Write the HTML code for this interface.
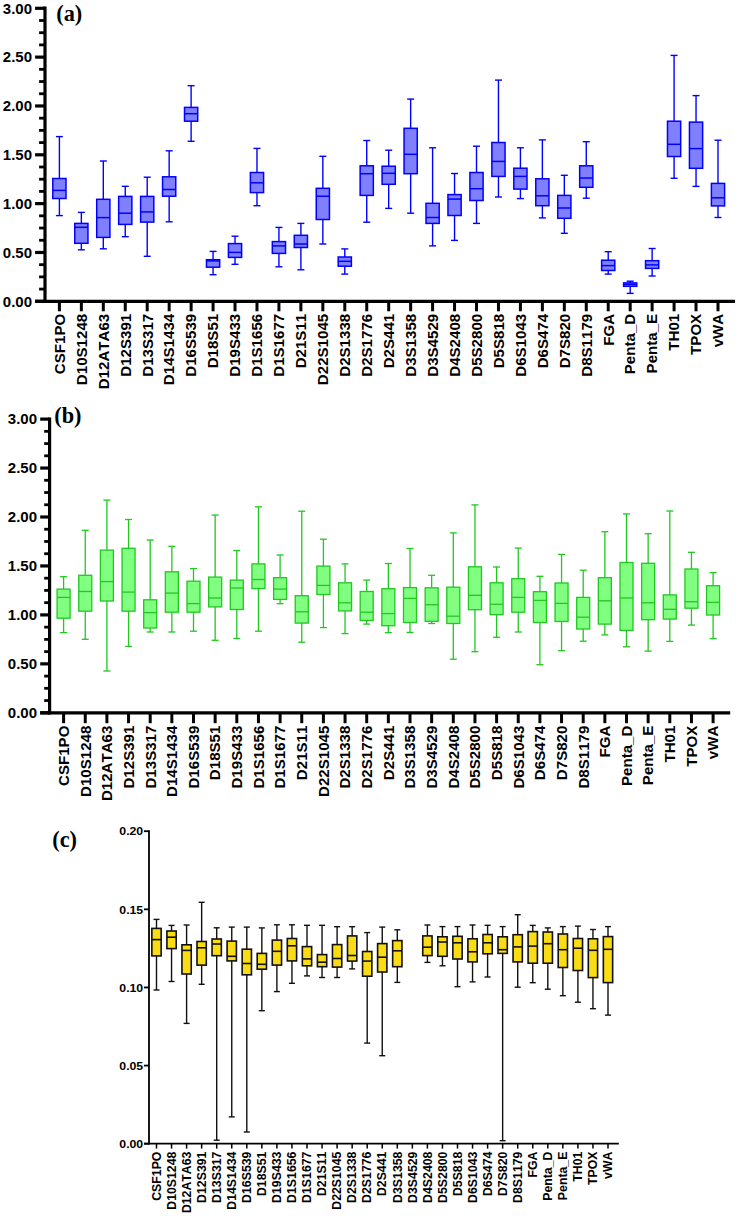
<!DOCTYPE html><html><head><meta charset="utf-8"><style>html,body{margin:0;padding:0;background:#fff;}svg{display:block;}</style></head><body>
<svg width="738" height="1216" viewBox="0 0 738 1216">
<rect width="738" height="1216" fill="#fff"/>
<line x1="59.40" y1="136.60" x2="59.40" y2="178.50" stroke="#0000ff" stroke-width="1.4"/>
<line x1="59.40" y1="198.50" x2="59.40" y2="215.60" stroke="#0000ff" stroke-width="1.4"/>
<line x1="55.90" y1="136.60" x2="62.90" y2="136.60" stroke="#0000ff" stroke-width="1.4"/>
<line x1="55.90" y1="215.60" x2="62.90" y2="215.60" stroke="#0000ff" stroke-width="1.4"/>
<rect x="52.80" y="178.50" width="13.20" height="20.00" fill="#8080ff" stroke="#0000ff" stroke-width="1.5"/>
<line x1="52.80" y1="190.40" x2="66.00" y2="190.40" stroke="#0000ff" stroke-width="1.5"/>
<line x1="81.35" y1="212.40" x2="81.35" y2="223.40" stroke="#0000ff" stroke-width="1.4"/>
<line x1="81.35" y1="243.30" x2="81.35" y2="249.80" stroke="#0000ff" stroke-width="1.4"/>
<line x1="77.85" y1="212.40" x2="84.85" y2="212.40" stroke="#0000ff" stroke-width="1.4"/>
<line x1="77.85" y1="249.80" x2="84.85" y2="249.80" stroke="#0000ff" stroke-width="1.4"/>
<rect x="74.75" y="223.40" width="13.20" height="19.90" fill="#8080ff" stroke="#0000ff" stroke-width="1.5"/>
<line x1="74.75" y1="227.30" x2="87.95" y2="227.30" stroke="#0000ff" stroke-width="1.5"/>
<line x1="103.31" y1="161.00" x2="103.31" y2="199.30" stroke="#0000ff" stroke-width="1.4"/>
<line x1="103.31" y1="237.40" x2="103.31" y2="248.80" stroke="#0000ff" stroke-width="1.4"/>
<line x1="99.81" y1="161.00" x2="106.81" y2="161.00" stroke="#0000ff" stroke-width="1.4"/>
<line x1="99.81" y1="248.80" x2="106.81" y2="248.80" stroke="#0000ff" stroke-width="1.4"/>
<rect x="96.71" y="199.30" width="13.20" height="38.10" fill="#8080ff" stroke="#0000ff" stroke-width="1.5"/>
<line x1="96.71" y1="217.60" x2="109.91" y2="217.60" stroke="#0000ff" stroke-width="1.5"/>
<line x1="125.26" y1="186.30" x2="125.26" y2="196.40" stroke="#0000ff" stroke-width="1.4"/>
<line x1="125.26" y1="224.40" x2="125.26" y2="236.70" stroke="#0000ff" stroke-width="1.4"/>
<line x1="121.76" y1="186.30" x2="128.76" y2="186.30" stroke="#0000ff" stroke-width="1.4"/>
<line x1="121.76" y1="236.70" x2="128.76" y2="236.70" stroke="#0000ff" stroke-width="1.4"/>
<rect x="118.66" y="196.40" width="13.20" height="28.00" fill="#8080ff" stroke="#0000ff" stroke-width="1.5"/>
<line x1="118.66" y1="213.20" x2="131.86" y2="213.20" stroke="#0000ff" stroke-width="1.5"/>
<line x1="147.21" y1="177.20" x2="147.21" y2="196.40" stroke="#0000ff" stroke-width="1.4"/>
<line x1="147.21" y1="222.10" x2="147.21" y2="256.30" stroke="#0000ff" stroke-width="1.4"/>
<line x1="143.71" y1="177.20" x2="150.71" y2="177.20" stroke="#0000ff" stroke-width="1.4"/>
<line x1="143.71" y1="256.30" x2="150.71" y2="256.30" stroke="#0000ff" stroke-width="1.4"/>
<rect x="140.61" y="196.40" width="13.20" height="25.70" fill="#8080ff" stroke="#0000ff" stroke-width="1.5"/>
<line x1="140.61" y1="211.90" x2="153.81" y2="211.90" stroke="#0000ff" stroke-width="1.5"/>
<line x1="169.16" y1="150.80" x2="169.16" y2="176.80" stroke="#0000ff" stroke-width="1.4"/>
<line x1="169.16" y1="196.20" x2="169.16" y2="221.80" stroke="#0000ff" stroke-width="1.4"/>
<line x1="165.66" y1="150.80" x2="172.66" y2="150.80" stroke="#0000ff" stroke-width="1.4"/>
<line x1="165.66" y1="221.80" x2="172.66" y2="221.80" stroke="#0000ff" stroke-width="1.4"/>
<rect x="162.56" y="176.80" width="13.20" height="19.40" fill="#8080ff" stroke="#0000ff" stroke-width="1.5"/>
<line x1="162.56" y1="189.50" x2="175.76" y2="189.50" stroke="#0000ff" stroke-width="1.5"/>
<line x1="191.12" y1="85.70" x2="191.12" y2="107.40" stroke="#0000ff" stroke-width="1.4"/>
<line x1="191.12" y1="121.20" x2="191.12" y2="141.30" stroke="#0000ff" stroke-width="1.4"/>
<line x1="187.62" y1="85.70" x2="194.62" y2="85.70" stroke="#0000ff" stroke-width="1.4"/>
<line x1="187.62" y1="141.30" x2="194.62" y2="141.30" stroke="#0000ff" stroke-width="1.4"/>
<rect x="184.52" y="107.40" width="13.20" height="13.80" fill="#8080ff" stroke="#0000ff" stroke-width="1.5"/>
<line x1="184.52" y1="113.70" x2="197.72" y2="113.70" stroke="#0000ff" stroke-width="1.5"/>
<line x1="213.07" y1="251.40" x2="213.07" y2="259.70" stroke="#0000ff" stroke-width="1.4"/>
<line x1="213.07" y1="267.20" x2="213.07" y2="274.70" stroke="#0000ff" stroke-width="1.4"/>
<line x1="209.57" y1="251.40" x2="216.57" y2="251.40" stroke="#0000ff" stroke-width="1.4"/>
<line x1="209.57" y1="274.70" x2="216.57" y2="274.70" stroke="#0000ff" stroke-width="1.4"/>
<rect x="206.47" y="259.70" width="13.20" height="7.50" fill="#8080ff" stroke="#0000ff" stroke-width="1.5"/>
<line x1="206.47" y1="260.90" x2="219.67" y2="260.90" stroke="#0000ff" stroke-width="1.5"/>
<line x1="235.02" y1="236.20" x2="235.02" y2="243.60" stroke="#0000ff" stroke-width="1.4"/>
<line x1="235.02" y1="257.40" x2="235.02" y2="264.30" stroke="#0000ff" stroke-width="1.4"/>
<line x1="231.52" y1="236.20" x2="238.52" y2="236.20" stroke="#0000ff" stroke-width="1.4"/>
<line x1="231.52" y1="264.30" x2="238.52" y2="264.30" stroke="#0000ff" stroke-width="1.4"/>
<rect x="228.42" y="243.60" width="13.20" height="13.80" fill="#8080ff" stroke="#0000ff" stroke-width="1.5"/>
<line x1="228.42" y1="252.40" x2="241.62" y2="252.40" stroke="#0000ff" stroke-width="1.5"/>
<line x1="256.98" y1="148.40" x2="256.98" y2="172.50" stroke="#0000ff" stroke-width="1.4"/>
<line x1="256.98" y1="192.60" x2="256.98" y2="205.70" stroke="#0000ff" stroke-width="1.4"/>
<line x1="253.48" y1="148.40" x2="260.48" y2="148.40" stroke="#0000ff" stroke-width="1.4"/>
<line x1="253.48" y1="205.70" x2="260.48" y2="205.70" stroke="#0000ff" stroke-width="1.4"/>
<rect x="250.38" y="172.50" width="13.20" height="20.10" fill="#8080ff" stroke="#0000ff" stroke-width="1.5"/>
<line x1="250.38" y1="182.80" x2="263.58" y2="182.80" stroke="#0000ff" stroke-width="1.5"/>
<line x1="278.93" y1="227.40" x2="278.93" y2="241.60" stroke="#0000ff" stroke-width="1.4"/>
<line x1="278.93" y1="253.40" x2="278.93" y2="266.80" stroke="#0000ff" stroke-width="1.4"/>
<line x1="275.43" y1="227.40" x2="282.43" y2="227.40" stroke="#0000ff" stroke-width="1.4"/>
<line x1="275.43" y1="266.80" x2="282.43" y2="266.80" stroke="#0000ff" stroke-width="1.4"/>
<rect x="272.33" y="241.60" width="13.20" height="11.80" fill="#8080ff" stroke="#0000ff" stroke-width="1.5"/>
<line x1="272.33" y1="245.90" x2="285.53" y2="245.90" stroke="#0000ff" stroke-width="1.5"/>
<line x1="300.88" y1="223.40" x2="300.88" y2="235.30" stroke="#0000ff" stroke-width="1.4"/>
<line x1="300.88" y1="247.50" x2="300.88" y2="269.80" stroke="#0000ff" stroke-width="1.4"/>
<line x1="297.38" y1="223.40" x2="304.38" y2="223.40" stroke="#0000ff" stroke-width="1.4"/>
<line x1="297.38" y1="269.80" x2="304.38" y2="269.80" stroke="#0000ff" stroke-width="1.4"/>
<rect x="294.28" y="235.30" width="13.20" height="12.20" fill="#8080ff" stroke="#0000ff" stroke-width="1.5"/>
<line x1="294.28" y1="244.00" x2="307.48" y2="244.00" stroke="#0000ff" stroke-width="1.5"/>
<line x1="322.84" y1="156.30" x2="322.84" y2="188.30" stroke="#0000ff" stroke-width="1.4"/>
<line x1="322.84" y1="219.50" x2="322.84" y2="244.00" stroke="#0000ff" stroke-width="1.4"/>
<line x1="319.34" y1="156.30" x2="326.34" y2="156.30" stroke="#0000ff" stroke-width="1.4"/>
<line x1="319.34" y1="244.00" x2="326.34" y2="244.00" stroke="#0000ff" stroke-width="1.4"/>
<rect x="316.24" y="188.30" width="13.20" height="31.20" fill="#8080ff" stroke="#0000ff" stroke-width="1.5"/>
<line x1="316.24" y1="196.20" x2="329.44" y2="196.20" stroke="#0000ff" stroke-width="1.5"/>
<line x1="344.79" y1="248.90" x2="344.79" y2="257.00" stroke="#0000ff" stroke-width="1.4"/>
<line x1="344.79" y1="266.20" x2="344.79" y2="274.10" stroke="#0000ff" stroke-width="1.4"/>
<line x1="341.29" y1="248.90" x2="348.29" y2="248.90" stroke="#0000ff" stroke-width="1.4"/>
<line x1="341.29" y1="274.10" x2="348.29" y2="274.10" stroke="#0000ff" stroke-width="1.4"/>
<rect x="338.19" y="257.00" width="13.20" height="9.20" fill="#8080ff" stroke="#0000ff" stroke-width="1.5"/>
<line x1="338.19" y1="261.30" x2="351.39" y2="261.30" stroke="#0000ff" stroke-width="1.5"/>
<line x1="366.74" y1="140.50" x2="366.74" y2="165.80" stroke="#0000ff" stroke-width="1.4"/>
<line x1="366.74" y1="195.40" x2="366.74" y2="222.20" stroke="#0000ff" stroke-width="1.4"/>
<line x1="363.24" y1="140.50" x2="370.24" y2="140.50" stroke="#0000ff" stroke-width="1.4"/>
<line x1="363.24" y1="222.20" x2="370.24" y2="222.20" stroke="#0000ff" stroke-width="1.4"/>
<rect x="360.14" y="165.80" width="13.20" height="29.60" fill="#8080ff" stroke="#0000ff" stroke-width="1.5"/>
<line x1="360.14" y1="173.70" x2="373.34" y2="173.70" stroke="#0000ff" stroke-width="1.5"/>
<line x1="388.69" y1="150.20" x2="388.69" y2="166.20" stroke="#0000ff" stroke-width="1.4"/>
<line x1="388.69" y1="184.30" x2="388.69" y2="208.40" stroke="#0000ff" stroke-width="1.4"/>
<line x1="385.19" y1="150.20" x2="392.19" y2="150.20" stroke="#0000ff" stroke-width="1.4"/>
<line x1="385.19" y1="208.40" x2="392.19" y2="208.40" stroke="#0000ff" stroke-width="1.4"/>
<rect x="382.09" y="166.20" width="13.20" height="18.10" fill="#8080ff" stroke="#0000ff" stroke-width="1.5"/>
<line x1="382.09" y1="173.30" x2="395.30" y2="173.30" stroke="#0000ff" stroke-width="1.5"/>
<line x1="410.65" y1="99.10" x2="410.65" y2="128.30" stroke="#0000ff" stroke-width="1.4"/>
<line x1="410.65" y1="173.70" x2="410.65" y2="213.20" stroke="#0000ff" stroke-width="1.4"/>
<line x1="407.15" y1="99.10" x2="414.15" y2="99.10" stroke="#0000ff" stroke-width="1.4"/>
<line x1="407.15" y1="213.20" x2="414.15" y2="213.20" stroke="#0000ff" stroke-width="1.4"/>
<rect x="404.05" y="128.30" width="13.20" height="45.40" fill="#8080ff" stroke="#0000ff" stroke-width="1.5"/>
<line x1="404.05" y1="154.30" x2="417.25" y2="154.30" stroke="#0000ff" stroke-width="1.5"/>
<line x1="432.60" y1="147.80" x2="432.60" y2="203.30" stroke="#0000ff" stroke-width="1.4"/>
<line x1="432.60" y1="223.40" x2="432.60" y2="245.90" stroke="#0000ff" stroke-width="1.4"/>
<line x1="429.10" y1="147.80" x2="436.10" y2="147.80" stroke="#0000ff" stroke-width="1.4"/>
<line x1="429.10" y1="245.90" x2="436.10" y2="245.90" stroke="#0000ff" stroke-width="1.4"/>
<rect x="426.00" y="203.30" width="13.20" height="20.10" fill="#8080ff" stroke="#0000ff" stroke-width="1.5"/>
<line x1="426.00" y1="217.50" x2="439.20" y2="217.50" stroke="#0000ff" stroke-width="1.5"/>
<line x1="454.55" y1="173.50" x2="454.55" y2="194.60" stroke="#0000ff" stroke-width="1.4"/>
<line x1="454.55" y1="215.50" x2="454.55" y2="240.40" stroke="#0000ff" stroke-width="1.4"/>
<line x1="451.05" y1="173.50" x2="458.05" y2="173.50" stroke="#0000ff" stroke-width="1.4"/>
<line x1="451.05" y1="240.40" x2="458.05" y2="240.40" stroke="#0000ff" stroke-width="1.4"/>
<rect x="447.95" y="194.60" width="13.20" height="20.90" fill="#8080ff" stroke="#0000ff" stroke-width="1.5"/>
<line x1="447.95" y1="199.10" x2="461.15" y2="199.10" stroke="#0000ff" stroke-width="1.5"/>
<line x1="476.51" y1="146.20" x2="476.51" y2="172.50" stroke="#0000ff" stroke-width="1.4"/>
<line x1="476.51" y1="200.50" x2="476.51" y2="223.40" stroke="#0000ff" stroke-width="1.4"/>
<line x1="473.01" y1="146.20" x2="480.01" y2="146.20" stroke="#0000ff" stroke-width="1.4"/>
<line x1="473.01" y1="223.40" x2="480.01" y2="223.40" stroke="#0000ff" stroke-width="1.4"/>
<rect x="469.91" y="172.50" width="13.20" height="28.00" fill="#8080ff" stroke="#0000ff" stroke-width="1.5"/>
<line x1="469.91" y1="188.70" x2="483.11" y2="188.70" stroke="#0000ff" stroke-width="1.5"/>
<line x1="498.46" y1="80.10" x2="498.46" y2="142.50" stroke="#0000ff" stroke-width="1.4"/>
<line x1="498.46" y1="176.40" x2="498.46" y2="197.00" stroke="#0000ff" stroke-width="1.4"/>
<line x1="494.96" y1="80.10" x2="501.96" y2="80.10" stroke="#0000ff" stroke-width="1.4"/>
<line x1="494.96" y1="197.00" x2="501.96" y2="197.00" stroke="#0000ff" stroke-width="1.4"/>
<rect x="491.86" y="142.50" width="13.20" height="33.90" fill="#8080ff" stroke="#0000ff" stroke-width="1.5"/>
<line x1="491.86" y1="161.40" x2="505.06" y2="161.40" stroke="#0000ff" stroke-width="1.5"/>
<line x1="520.41" y1="147.80" x2="520.41" y2="168.20" stroke="#0000ff" stroke-width="1.4"/>
<line x1="520.41" y1="189.10" x2="520.41" y2="198.60" stroke="#0000ff" stroke-width="1.4"/>
<line x1="516.91" y1="147.80" x2="523.91" y2="147.80" stroke="#0000ff" stroke-width="1.4"/>
<line x1="516.91" y1="198.60" x2="523.91" y2="198.60" stroke="#0000ff" stroke-width="1.4"/>
<rect x="513.81" y="168.20" width="13.20" height="20.90" fill="#8080ff" stroke="#0000ff" stroke-width="1.5"/>
<line x1="513.81" y1="176.40" x2="527.01" y2="176.40" stroke="#0000ff" stroke-width="1.5"/>
<line x1="542.37" y1="139.90" x2="542.37" y2="178.80" stroke="#0000ff" stroke-width="1.4"/>
<line x1="542.37" y1="205.70" x2="542.37" y2="217.90" stroke="#0000ff" stroke-width="1.4"/>
<line x1="538.87" y1="139.90" x2="545.87" y2="139.90" stroke="#0000ff" stroke-width="1.4"/>
<line x1="538.87" y1="217.90" x2="545.87" y2="217.90" stroke="#0000ff" stroke-width="1.4"/>
<rect x="535.77" y="178.80" width="13.20" height="26.90" fill="#8080ff" stroke="#0000ff" stroke-width="1.5"/>
<line x1="535.77" y1="195.80" x2="548.97" y2="195.80" stroke="#0000ff" stroke-width="1.5"/>
<line x1="564.32" y1="175.30" x2="564.32" y2="195.40" stroke="#0000ff" stroke-width="1.4"/>
<line x1="564.32" y1="218.30" x2="564.32" y2="233.30" stroke="#0000ff" stroke-width="1.4"/>
<line x1="560.82" y1="175.30" x2="567.82" y2="175.30" stroke="#0000ff" stroke-width="1.4"/>
<line x1="560.82" y1="233.30" x2="567.82" y2="233.30" stroke="#0000ff" stroke-width="1.4"/>
<rect x="557.72" y="195.40" width="13.20" height="22.90" fill="#8080ff" stroke="#0000ff" stroke-width="1.5"/>
<line x1="557.72" y1="208.00" x2="570.92" y2="208.00" stroke="#0000ff" stroke-width="1.5"/>
<line x1="586.27" y1="141.70" x2="586.27" y2="165.80" stroke="#0000ff" stroke-width="1.4"/>
<line x1="586.27" y1="187.30" x2="586.27" y2="198.20" stroke="#0000ff" stroke-width="1.4"/>
<line x1="582.77" y1="141.70" x2="589.77" y2="141.70" stroke="#0000ff" stroke-width="1.4"/>
<line x1="582.77" y1="198.20" x2="589.77" y2="198.20" stroke="#0000ff" stroke-width="1.4"/>
<rect x="579.67" y="165.80" width="13.20" height="21.50" fill="#8080ff" stroke="#0000ff" stroke-width="1.5"/>
<line x1="579.67" y1="178.00" x2="592.87" y2="178.00" stroke="#0000ff" stroke-width="1.5"/>
<line x1="608.22" y1="251.70" x2="608.22" y2="260.20" stroke="#0000ff" stroke-width="1.4"/>
<line x1="608.22" y1="270.50" x2="608.22" y2="274.10" stroke="#0000ff" stroke-width="1.4"/>
<line x1="604.72" y1="251.70" x2="611.72" y2="251.70" stroke="#0000ff" stroke-width="1.4"/>
<line x1="604.72" y1="274.10" x2="611.72" y2="274.10" stroke="#0000ff" stroke-width="1.4"/>
<rect x="601.62" y="260.20" width="13.20" height="10.30" fill="#8080ff" stroke="#0000ff" stroke-width="1.5"/>
<line x1="601.62" y1="265.60" x2="614.82" y2="265.60" stroke="#0000ff" stroke-width="1.5"/>
<line x1="630.18" y1="281.20" x2="630.18" y2="282.90" stroke="#0000ff" stroke-width="1.4"/>
<line x1="630.18" y1="286.30" x2="630.18" y2="293.40" stroke="#0000ff" stroke-width="1.4"/>
<line x1="626.68" y1="281.20" x2="633.68" y2="281.20" stroke="#0000ff" stroke-width="1.4"/>
<line x1="626.68" y1="293.40" x2="633.68" y2="293.40" stroke="#0000ff" stroke-width="1.4"/>
<rect x="623.58" y="282.90" width="13.20" height="3.40" fill="#8080ff" stroke="#0000ff" stroke-width="1.5"/>
<line x1="623.58" y1="284.40" x2="636.78" y2="284.40" stroke="#0000ff" stroke-width="1.5"/>
<line x1="652.13" y1="248.50" x2="652.13" y2="260.70" stroke="#0000ff" stroke-width="1.4"/>
<line x1="652.13" y1="268.40" x2="652.13" y2="276.00" stroke="#0000ff" stroke-width="1.4"/>
<line x1="648.63" y1="248.50" x2="655.63" y2="248.50" stroke="#0000ff" stroke-width="1.4"/>
<line x1="648.63" y1="276.00" x2="655.63" y2="276.00" stroke="#0000ff" stroke-width="1.4"/>
<rect x="645.53" y="260.70" width="13.20" height="7.70" fill="#8080ff" stroke="#0000ff" stroke-width="1.5"/>
<line x1="645.53" y1="264.90" x2="658.73" y2="264.90" stroke="#0000ff" stroke-width="1.5"/>
<line x1="674.08" y1="55.40" x2="674.08" y2="121.20" stroke="#0000ff" stroke-width="1.4"/>
<line x1="674.08" y1="156.50" x2="674.08" y2="178.30" stroke="#0000ff" stroke-width="1.4"/>
<line x1="670.58" y1="55.40" x2="677.58" y2="55.40" stroke="#0000ff" stroke-width="1.4"/>
<line x1="670.58" y1="178.30" x2="677.58" y2="178.30" stroke="#0000ff" stroke-width="1.4"/>
<rect x="667.48" y="121.20" width="13.20" height="35.30" fill="#8080ff" stroke="#0000ff" stroke-width="1.5"/>
<line x1="667.48" y1="144.30" x2="680.68" y2="144.30" stroke="#0000ff" stroke-width="1.5"/>
<line x1="696.04" y1="95.60" x2="696.04" y2="122.10" stroke="#0000ff" stroke-width="1.4"/>
<line x1="696.04" y1="168.30" x2="696.04" y2="186.40" stroke="#0000ff" stroke-width="1.4"/>
<line x1="692.54" y1="95.60" x2="699.54" y2="95.60" stroke="#0000ff" stroke-width="1.4"/>
<line x1="692.54" y1="186.40" x2="699.54" y2="186.40" stroke="#0000ff" stroke-width="1.4"/>
<rect x="689.44" y="122.10" width="13.20" height="46.20" fill="#8080ff" stroke="#0000ff" stroke-width="1.5"/>
<line x1="689.44" y1="148.60" x2="702.64" y2="148.60" stroke="#0000ff" stroke-width="1.5"/>
<line x1="717.99" y1="140.20" x2="717.99" y2="183.40" stroke="#0000ff" stroke-width="1.4"/>
<line x1="717.99" y1="205.90" x2="717.99" y2="217.50" stroke="#0000ff" stroke-width="1.4"/>
<line x1="714.49" y1="140.20" x2="721.49" y2="140.20" stroke="#0000ff" stroke-width="1.4"/>
<line x1="714.49" y1="217.50" x2="721.49" y2="217.50" stroke="#0000ff" stroke-width="1.4"/>
<rect x="711.39" y="183.40" width="13.20" height="22.50" fill="#8080ff" stroke="#0000ff" stroke-width="1.5"/>
<line x1="711.39" y1="197.80" x2="724.59" y2="197.80" stroke="#0000ff" stroke-width="1.5"/>
<line x1="45" y1="6.60" x2="45" y2="302.90" stroke="#000" stroke-width="3.2"/>
<line x1="35.1" y1="301.3" x2="735" y2="301.3" stroke="#000" stroke-width="3.2"/>
<line x1="35.1" y1="301.30" x2="45" y2="301.30" stroke="#000" stroke-width="3.2"/>
<text transform="translate(32,306.60) scale(1,1)" text-anchor="end" font-family='"Liberation Sans", sans-serif' font-weight="bold" font-size="15">0.00</text>
<line x1="35.1" y1="252.47" x2="45" y2="252.47" stroke="#000" stroke-width="3.2"/>
<text transform="translate(32,257.76) scale(1,1)" text-anchor="end" font-family='"Liberation Sans", sans-serif' font-weight="bold" font-size="15">0.50</text>
<line x1="35.1" y1="203.63" x2="45" y2="203.63" stroke="#000" stroke-width="3.2"/>
<text transform="translate(32,208.93) scale(1,1)" text-anchor="end" font-family='"Liberation Sans", sans-serif' font-weight="bold" font-size="15">1.00</text>
<line x1="35.1" y1="154.80" x2="45" y2="154.80" stroke="#000" stroke-width="3.2"/>
<text transform="translate(32,160.10) scale(1,1)" text-anchor="end" font-family='"Liberation Sans", sans-serif' font-weight="bold" font-size="15">1.50</text>
<line x1="35.1" y1="105.96" x2="45" y2="105.96" stroke="#000" stroke-width="3.2"/>
<text transform="translate(32,111.26) scale(1,1)" text-anchor="end" font-family='"Liberation Sans", sans-serif' font-weight="bold" font-size="15">2.00</text>
<line x1="35.1" y1="57.12" x2="45" y2="57.12" stroke="#000" stroke-width="3.2"/>
<text transform="translate(32,62.42) scale(1,1)" text-anchor="end" font-family='"Liberation Sans", sans-serif' font-weight="bold" font-size="15">2.50</text>
<line x1="35.1" y1="8.29" x2="45" y2="8.29" stroke="#000" stroke-width="3.2"/>
<text transform="translate(32,13.59) scale(1,1)" text-anchor="end" font-family='"Liberation Sans", sans-serif' font-weight="bold" font-size="15">3.00</text>
<line x1="39.1" y1="289.09" x2="45" y2="289.09" stroke="#000" stroke-width="2.8"/>
<line x1="39.1" y1="276.88" x2="45" y2="276.88" stroke="#000" stroke-width="2.8"/>
<line x1="39.1" y1="264.67" x2="45" y2="264.67" stroke="#000" stroke-width="2.8"/>
<line x1="39.1" y1="240.26" x2="45" y2="240.26" stroke="#000" stroke-width="2.8"/>
<line x1="39.1" y1="228.05" x2="45" y2="228.05" stroke="#000" stroke-width="2.8"/>
<line x1="39.1" y1="215.84" x2="45" y2="215.84" stroke="#000" stroke-width="2.8"/>
<line x1="39.1" y1="191.42" x2="45" y2="191.42" stroke="#000" stroke-width="2.8"/>
<line x1="39.1" y1="179.21" x2="45" y2="179.21" stroke="#000" stroke-width="2.8"/>
<line x1="39.1" y1="167.00" x2="45" y2="167.00" stroke="#000" stroke-width="2.8"/>
<line x1="39.1" y1="142.59" x2="45" y2="142.59" stroke="#000" stroke-width="2.8"/>
<line x1="39.1" y1="130.38" x2="45" y2="130.38" stroke="#000" stroke-width="2.8"/>
<line x1="39.1" y1="118.17" x2="45" y2="118.17" stroke="#000" stroke-width="2.8"/>
<line x1="39.1" y1="93.75" x2="45" y2="93.75" stroke="#000" stroke-width="2.8"/>
<line x1="39.1" y1="81.54" x2="45" y2="81.54" stroke="#000" stroke-width="2.8"/>
<line x1="39.1" y1="69.33" x2="45" y2="69.33" stroke="#000" stroke-width="2.8"/>
<line x1="39.1" y1="44.92" x2="45" y2="44.92" stroke="#000" stroke-width="2.8"/>
<line x1="39.1" y1="32.71" x2="45" y2="32.71" stroke="#000" stroke-width="2.8"/>
<line x1="39.1" y1="20.50" x2="45" y2="20.50" stroke="#000" stroke-width="2.8"/>
<line x1="59.40" y1="301.3" x2="59.40" y2="311.3" stroke="#000" stroke-width="3"/>
<text transform="translate(64.70,313.8) rotate(-90)" text-anchor="end" font-family='"Liberation Sans", sans-serif' font-weight="bold" font-size="15.1" style="font-kerning:none">CSF1PO</text>
<line x1="81.35" y1="301.3" x2="81.35" y2="311.3" stroke="#000" stroke-width="3"/>
<text transform="translate(86.65,313.8) rotate(-90)" text-anchor="end" font-family='"Liberation Sans", sans-serif' font-weight="bold" font-size="15.1" style="font-kerning:none">D10S1248</text>
<line x1="103.31" y1="301.3" x2="103.31" y2="311.3" stroke="#000" stroke-width="3"/>
<text transform="translate(108.61,313.8) rotate(-90)" text-anchor="end" font-family='"Liberation Sans", sans-serif' font-weight="bold" font-size="15.1" style="font-kerning:none">D12ATA63</text>
<line x1="125.26" y1="301.3" x2="125.26" y2="311.3" stroke="#000" stroke-width="3"/>
<text transform="translate(130.56,313.8) rotate(-90)" text-anchor="end" font-family='"Liberation Sans", sans-serif' font-weight="bold" font-size="15.1" style="font-kerning:none">D12S391</text>
<line x1="147.21" y1="301.3" x2="147.21" y2="311.3" stroke="#000" stroke-width="3"/>
<text transform="translate(152.51,313.8) rotate(-90)" text-anchor="end" font-family='"Liberation Sans", sans-serif' font-weight="bold" font-size="15.1" style="font-kerning:none">D13S317</text>
<line x1="169.16" y1="301.3" x2="169.16" y2="311.3" stroke="#000" stroke-width="3"/>
<text transform="translate(174.47,313.8) rotate(-90)" text-anchor="end" font-family='"Liberation Sans", sans-serif' font-weight="bold" font-size="15.1" style="font-kerning:none">D14S1434</text>
<line x1="191.12" y1="301.3" x2="191.12" y2="311.3" stroke="#000" stroke-width="3"/>
<text transform="translate(196.42,313.8) rotate(-90)" text-anchor="end" font-family='"Liberation Sans", sans-serif' font-weight="bold" font-size="15.1" style="font-kerning:none">D16S539</text>
<line x1="213.07" y1="301.3" x2="213.07" y2="311.3" stroke="#000" stroke-width="3"/>
<text transform="translate(218.37,313.8) rotate(-90)" text-anchor="end" font-family='"Liberation Sans", sans-serif' font-weight="bold" font-size="15.1" style="font-kerning:none">D18S51</text>
<line x1="235.02" y1="301.3" x2="235.02" y2="311.3" stroke="#000" stroke-width="3"/>
<text transform="translate(240.32,313.8) rotate(-90)" text-anchor="end" font-family='"Liberation Sans", sans-serif' font-weight="bold" font-size="15.1" style="font-kerning:none">D19S433</text>
<line x1="256.98" y1="301.3" x2="256.98" y2="311.3" stroke="#000" stroke-width="3"/>
<text transform="translate(262.28,313.8) rotate(-90)" text-anchor="end" font-family='"Liberation Sans", sans-serif' font-weight="bold" font-size="15.1" style="font-kerning:none">D1S1656</text>
<line x1="278.93" y1="301.3" x2="278.93" y2="311.3" stroke="#000" stroke-width="3"/>
<text transform="translate(284.23,313.8) rotate(-90)" text-anchor="end" font-family='"Liberation Sans", sans-serif' font-weight="bold" font-size="15.1" style="font-kerning:none">D1S1677</text>
<line x1="300.88" y1="301.3" x2="300.88" y2="311.3" stroke="#000" stroke-width="3"/>
<text transform="translate(306.18,313.8) rotate(-90)" text-anchor="end" font-family='"Liberation Sans", sans-serif' font-weight="bold" font-size="15.1" style="font-kerning:none">D21S11</text>
<line x1="322.84" y1="301.3" x2="322.84" y2="311.3" stroke="#000" stroke-width="3"/>
<text transform="translate(328.14,313.8) rotate(-90)" text-anchor="end" font-family='"Liberation Sans", sans-serif' font-weight="bold" font-size="15.1" style="font-kerning:none">D22S1045</text>
<line x1="344.79" y1="301.3" x2="344.79" y2="311.3" stroke="#000" stroke-width="3"/>
<text transform="translate(350.09,313.8) rotate(-90)" text-anchor="end" font-family='"Liberation Sans", sans-serif' font-weight="bold" font-size="15.1" style="font-kerning:none">D2S1338</text>
<line x1="366.74" y1="301.3" x2="366.74" y2="311.3" stroke="#000" stroke-width="3"/>
<text transform="translate(372.04,313.8) rotate(-90)" text-anchor="end" font-family='"Liberation Sans", sans-serif' font-weight="bold" font-size="15.1" style="font-kerning:none">D2S1776</text>
<line x1="388.69" y1="301.3" x2="388.69" y2="311.3" stroke="#000" stroke-width="3"/>
<text transform="translate(394.00,313.8) rotate(-90)" text-anchor="end" font-family='"Liberation Sans", sans-serif' font-weight="bold" font-size="15.1" style="font-kerning:none">D2S441</text>
<line x1="410.65" y1="301.3" x2="410.65" y2="311.3" stroke="#000" stroke-width="3"/>
<text transform="translate(415.95,313.8) rotate(-90)" text-anchor="end" font-family='"Liberation Sans", sans-serif' font-weight="bold" font-size="15.1" style="font-kerning:none">D3S1358</text>
<line x1="432.60" y1="301.3" x2="432.60" y2="311.3" stroke="#000" stroke-width="3"/>
<text transform="translate(437.90,313.8) rotate(-90)" text-anchor="end" font-family='"Liberation Sans", sans-serif' font-weight="bold" font-size="15.1" style="font-kerning:none">D3S4529</text>
<line x1="454.55" y1="301.3" x2="454.55" y2="311.3" stroke="#000" stroke-width="3"/>
<text transform="translate(459.85,313.8) rotate(-90)" text-anchor="end" font-family='"Liberation Sans", sans-serif' font-weight="bold" font-size="15.1" style="font-kerning:none">D4S2408</text>
<line x1="476.51" y1="301.3" x2="476.51" y2="311.3" stroke="#000" stroke-width="3"/>
<text transform="translate(481.81,313.8) rotate(-90)" text-anchor="end" font-family='"Liberation Sans", sans-serif' font-weight="bold" font-size="15.1" style="font-kerning:none">D5S2800</text>
<line x1="498.46" y1="301.3" x2="498.46" y2="311.3" stroke="#000" stroke-width="3"/>
<text transform="translate(503.76,313.8) rotate(-90)" text-anchor="end" font-family='"Liberation Sans", sans-serif' font-weight="bold" font-size="15.1" style="font-kerning:none">D5S818</text>
<line x1="520.41" y1="301.3" x2="520.41" y2="311.3" stroke="#000" stroke-width="3"/>
<text transform="translate(525.71,313.8) rotate(-90)" text-anchor="end" font-family='"Liberation Sans", sans-serif' font-weight="bold" font-size="15.1" style="font-kerning:none">D6S1043</text>
<line x1="542.37" y1="301.3" x2="542.37" y2="311.3" stroke="#000" stroke-width="3"/>
<text transform="translate(547.67,313.8) rotate(-90)" text-anchor="end" font-family='"Liberation Sans", sans-serif' font-weight="bold" font-size="15.1" style="font-kerning:none">D6S474</text>
<line x1="564.32" y1="301.3" x2="564.32" y2="311.3" stroke="#000" stroke-width="3"/>
<text transform="translate(569.62,313.8) rotate(-90)" text-anchor="end" font-family='"Liberation Sans", sans-serif' font-weight="bold" font-size="15.1" style="font-kerning:none">D7S820</text>
<line x1="586.27" y1="301.3" x2="586.27" y2="311.3" stroke="#000" stroke-width="3"/>
<text transform="translate(591.57,313.8) rotate(-90)" text-anchor="end" font-family='"Liberation Sans", sans-serif' font-weight="bold" font-size="15.1" style="font-kerning:none">D8S1179</text>
<line x1="608.22" y1="301.3" x2="608.22" y2="311.3" stroke="#000" stroke-width="3"/>
<text transform="translate(613.52,313.8) rotate(-90)" text-anchor="end" font-family='"Liberation Sans", sans-serif' font-weight="bold" font-size="15.1" style="font-kerning:none">FGA</text>
<line x1="630.18" y1="301.3" x2="630.18" y2="311.3" stroke="#000" stroke-width="3"/>
<text transform="translate(635.48,313.8) rotate(-90)" text-anchor="end" font-family='"Liberation Sans", sans-serif' font-weight="bold" font-size="15.1" style="font-kerning:none">Penta_D</text>
<line x1="652.13" y1="301.3" x2="652.13" y2="311.3" stroke="#000" stroke-width="3"/>
<text transform="translate(657.43,313.8) rotate(-90)" text-anchor="end" font-family='"Liberation Sans", sans-serif' font-weight="bold" font-size="15.1" style="font-kerning:none">Penta_E</text>
<line x1="674.08" y1="301.3" x2="674.08" y2="311.3" stroke="#000" stroke-width="3"/>
<text transform="translate(679.38,313.8) rotate(-90)" text-anchor="end" font-family='"Liberation Sans", sans-serif' font-weight="bold" font-size="15.1" style="font-kerning:none">TH01</text>
<line x1="696.04" y1="301.3" x2="696.04" y2="311.3" stroke="#000" stroke-width="3"/>
<text transform="translate(701.34,313.8) rotate(-90)" text-anchor="end" font-family='"Liberation Sans", sans-serif' font-weight="bold" font-size="15.1" style="font-kerning:none">TPOX</text>
<line x1="717.99" y1="301.3" x2="717.99" y2="311.3" stroke="#000" stroke-width="3"/>
<text transform="translate(723.29,313.8) rotate(-90)" text-anchor="end" font-family='"Liberation Sans", sans-serif' font-weight="bold" font-size="15.1" style="font-kerning:none">vWA</text>
<text x="56.3" y="20.7" font-family='"Liberation Serif", serif' font-weight="bold" font-size="22.3">(a)</text>
<line x1="63.60" y1="576.70" x2="63.60" y2="589.10" stroke="#20c820" stroke-width="1.3"/>
<line x1="63.60" y1="618.20" x2="63.60" y2="632.60" stroke="#20c820" stroke-width="1.3"/>
<line x1="60.10" y1="576.70" x2="67.10" y2="576.70" stroke="#20c820" stroke-width="1.3"/>
<line x1="60.10" y1="632.60" x2="67.10" y2="632.60" stroke="#20c820" stroke-width="1.3"/>
<rect x="57.10" y="589.10" width="13.00" height="29.10" fill="#80ff80" stroke="#20c820" stroke-width="1.3"/>
<line x1="57.10" y1="597.40" x2="70.10" y2="597.40" stroke="#20c820" stroke-width="1.3"/>
<line x1="85.25" y1="530.30" x2="85.25" y2="575.30" stroke="#20c820" stroke-width="1.3"/>
<line x1="85.25" y1="611.20" x2="85.25" y2="639.30" stroke="#20c820" stroke-width="1.3"/>
<line x1="81.75" y1="530.30" x2="88.75" y2="530.30" stroke="#20c820" stroke-width="1.3"/>
<line x1="81.75" y1="639.30" x2="88.75" y2="639.30" stroke="#20c820" stroke-width="1.3"/>
<rect x="78.75" y="575.30" width="13.00" height="35.90" fill="#80ff80" stroke="#20c820" stroke-width="1.3"/>
<line x1="78.75" y1="591.50" x2="91.75" y2="591.50" stroke="#20c820" stroke-width="1.3"/>
<line x1="106.90" y1="500.10" x2="106.90" y2="550.10" stroke="#20c820" stroke-width="1.3"/>
<line x1="106.90" y1="601.00" x2="106.90" y2="671.00" stroke="#20c820" stroke-width="1.3"/>
<line x1="103.40" y1="500.10" x2="110.40" y2="500.10" stroke="#20c820" stroke-width="1.3"/>
<line x1="103.40" y1="671.00" x2="110.40" y2="671.00" stroke="#20c820" stroke-width="1.3"/>
<rect x="100.40" y="550.10" width="13.00" height="50.90" fill="#80ff80" stroke="#20c820" stroke-width="1.3"/>
<line x1="100.40" y1="581.60" x2="113.40" y2="581.60" stroke="#20c820" stroke-width="1.3"/>
<line x1="128.55" y1="519.50" x2="128.55" y2="548.30" stroke="#20c820" stroke-width="1.3"/>
<line x1="128.55" y1="611.20" x2="128.55" y2="646.40" stroke="#20c820" stroke-width="1.3"/>
<line x1="125.05" y1="519.50" x2="132.05" y2="519.50" stroke="#20c820" stroke-width="1.3"/>
<line x1="125.05" y1="646.40" x2="132.05" y2="646.40" stroke="#20c820" stroke-width="1.3"/>
<rect x="122.05" y="548.30" width="13.00" height="62.90" fill="#80ff80" stroke="#20c820" stroke-width="1.3"/>
<line x1="122.05" y1="592.10" x2="135.05" y2="592.10" stroke="#20c820" stroke-width="1.3"/>
<line x1="150.20" y1="540.00" x2="150.20" y2="599.80" stroke="#20c820" stroke-width="1.3"/>
<line x1="150.20" y1="628.00" x2="150.20" y2="632.00" stroke="#20c820" stroke-width="1.3"/>
<line x1="146.70" y1="540.00" x2="153.70" y2="540.00" stroke="#20c820" stroke-width="1.3"/>
<line x1="146.70" y1="632.00" x2="153.70" y2="632.00" stroke="#20c820" stroke-width="1.3"/>
<rect x="143.70" y="599.80" width="13.00" height="28.20" fill="#80ff80" stroke="#20c820" stroke-width="1.3"/>
<line x1="143.70" y1="612.60" x2="156.70" y2="612.60" stroke="#20c820" stroke-width="1.3"/>
<line x1="171.85" y1="546.30" x2="171.85" y2="571.80" stroke="#20c820" stroke-width="1.3"/>
<line x1="171.85" y1="612.20" x2="171.85" y2="632.00" stroke="#20c820" stroke-width="1.3"/>
<line x1="168.35" y1="546.30" x2="175.35" y2="546.30" stroke="#20c820" stroke-width="1.3"/>
<line x1="168.35" y1="632.00" x2="175.35" y2="632.00" stroke="#20c820" stroke-width="1.3"/>
<rect x="165.35" y="571.80" width="13.00" height="40.40" fill="#80ff80" stroke="#20c820" stroke-width="1.3"/>
<line x1="165.35" y1="593.10" x2="178.35" y2="593.10" stroke="#20c820" stroke-width="1.3"/>
<line x1="193.50" y1="568.60" x2="193.50" y2="581.20" stroke="#20c820" stroke-width="1.3"/>
<line x1="193.50" y1="612.20" x2="193.50" y2="631.20" stroke="#20c820" stroke-width="1.3"/>
<line x1="190.00" y1="568.60" x2="197.00" y2="568.60" stroke="#20c820" stroke-width="1.3"/>
<line x1="190.00" y1="631.20" x2="197.00" y2="631.20" stroke="#20c820" stroke-width="1.3"/>
<rect x="187.00" y="581.20" width="13.00" height="31.00" fill="#80ff80" stroke="#20c820" stroke-width="1.3"/>
<line x1="187.00" y1="603.60" x2="200.00" y2="603.60" stroke="#20c820" stroke-width="1.3"/>
<line x1="215.15" y1="515.10" x2="215.15" y2="577.10" stroke="#20c820" stroke-width="1.3"/>
<line x1="215.15" y1="606.90" x2="215.15" y2="640.30" stroke="#20c820" stroke-width="1.3"/>
<line x1="211.65" y1="515.10" x2="218.65" y2="515.10" stroke="#20c820" stroke-width="1.3"/>
<line x1="211.65" y1="640.30" x2="218.65" y2="640.30" stroke="#20c820" stroke-width="1.3"/>
<rect x="208.65" y="577.10" width="13.00" height="29.80" fill="#80ff80" stroke="#20c820" stroke-width="1.3"/>
<line x1="208.65" y1="598.00" x2="221.65" y2="598.00" stroke="#20c820" stroke-width="1.3"/>
<line x1="236.80" y1="550.50" x2="236.80" y2="580.10" stroke="#20c820" stroke-width="1.3"/>
<line x1="236.80" y1="609.50" x2="236.80" y2="638.50" stroke="#20c820" stroke-width="1.3"/>
<line x1="233.30" y1="550.50" x2="240.30" y2="550.50" stroke="#20c820" stroke-width="1.3"/>
<line x1="233.30" y1="638.50" x2="240.30" y2="638.50" stroke="#20c820" stroke-width="1.3"/>
<rect x="230.30" y="580.10" width="13.00" height="29.40" fill="#80ff80" stroke="#20c820" stroke-width="1.3"/>
<line x1="230.30" y1="588.00" x2="243.30" y2="588.00" stroke="#20c820" stroke-width="1.3"/>
<line x1="258.45" y1="506.80" x2="258.45" y2="563.90" stroke="#20c820" stroke-width="1.3"/>
<line x1="258.45" y1="588.60" x2="258.45" y2="631.20" stroke="#20c820" stroke-width="1.3"/>
<line x1="254.95" y1="506.80" x2="261.95" y2="506.80" stroke="#20c820" stroke-width="1.3"/>
<line x1="254.95" y1="631.20" x2="261.95" y2="631.20" stroke="#20c820" stroke-width="1.3"/>
<rect x="251.95" y="563.90" width="13.00" height="24.70" fill="#80ff80" stroke="#20c820" stroke-width="1.3"/>
<line x1="251.95" y1="579.50" x2="264.95" y2="579.50" stroke="#20c820" stroke-width="1.3"/>
<line x1="280.10" y1="555.00" x2="280.10" y2="577.70" stroke="#20c820" stroke-width="1.3"/>
<line x1="280.10" y1="599.40" x2="280.10" y2="603.70" stroke="#20c820" stroke-width="1.3"/>
<line x1="276.60" y1="555.00" x2="283.60" y2="555.00" stroke="#20c820" stroke-width="1.3"/>
<line x1="276.60" y1="603.70" x2="283.60" y2="603.70" stroke="#20c820" stroke-width="1.3"/>
<rect x="273.60" y="577.70" width="13.00" height="21.70" fill="#80ff80" stroke="#20c820" stroke-width="1.3"/>
<line x1="273.60" y1="589.10" x2="286.60" y2="589.10" stroke="#20c820" stroke-width="1.3"/>
<line x1="301.75" y1="511.20" x2="301.75" y2="595.70" stroke="#20c820" stroke-width="1.3"/>
<line x1="301.75" y1="623.10" x2="301.75" y2="642.20" stroke="#20c820" stroke-width="1.3"/>
<line x1="298.25" y1="511.20" x2="305.25" y2="511.20" stroke="#20c820" stroke-width="1.3"/>
<line x1="298.25" y1="642.20" x2="305.25" y2="642.20" stroke="#20c820" stroke-width="1.3"/>
<rect x="295.25" y="595.70" width="13.00" height="27.40" fill="#80ff80" stroke="#20c820" stroke-width="1.3"/>
<line x1="295.25" y1="611.80" x2="308.25" y2="611.80" stroke="#20c820" stroke-width="1.3"/>
<line x1="323.40" y1="539.20" x2="323.40" y2="566.10" stroke="#20c820" stroke-width="1.3"/>
<line x1="323.40" y1="594.50" x2="323.40" y2="627.60" stroke="#20c820" stroke-width="1.3"/>
<line x1="319.90" y1="539.20" x2="326.90" y2="539.20" stroke="#20c820" stroke-width="1.3"/>
<line x1="319.90" y1="627.60" x2="326.90" y2="627.60" stroke="#20c820" stroke-width="1.3"/>
<rect x="316.90" y="566.10" width="13.00" height="28.40" fill="#80ff80" stroke="#20c820" stroke-width="1.3"/>
<line x1="316.90" y1="585.40" x2="329.90" y2="585.40" stroke="#20c820" stroke-width="1.3"/>
<line x1="345.05" y1="563.90" x2="345.05" y2="582.80" stroke="#20c820" stroke-width="1.3"/>
<line x1="345.05" y1="610.90" x2="345.05" y2="633.60" stroke="#20c820" stroke-width="1.3"/>
<line x1="341.55" y1="563.90" x2="348.55" y2="563.90" stroke="#20c820" stroke-width="1.3"/>
<line x1="341.55" y1="633.60" x2="348.55" y2="633.60" stroke="#20c820" stroke-width="1.3"/>
<rect x="338.55" y="582.80" width="13.00" height="28.10" fill="#80ff80" stroke="#20c820" stroke-width="1.3"/>
<line x1="338.55" y1="602.80" x2="351.55" y2="602.80" stroke="#20c820" stroke-width="1.3"/>
<line x1="366.70" y1="580.10" x2="366.70" y2="591.50" stroke="#20c820" stroke-width="1.3"/>
<line x1="366.70" y1="620.50" x2="366.70" y2="624.10" stroke="#20c820" stroke-width="1.3"/>
<line x1="363.20" y1="580.10" x2="370.20" y2="580.10" stroke="#20c820" stroke-width="1.3"/>
<line x1="363.20" y1="624.10" x2="370.20" y2="624.10" stroke="#20c820" stroke-width="1.3"/>
<rect x="360.20" y="591.50" width="13.00" height="29.00" fill="#80ff80" stroke="#20c820" stroke-width="1.3"/>
<line x1="360.20" y1="612.20" x2="373.20" y2="612.20" stroke="#20c820" stroke-width="1.3"/>
<line x1="388.35" y1="563.50" x2="388.35" y2="588.70" stroke="#20c820" stroke-width="1.3"/>
<line x1="388.35" y1="625.70" x2="388.35" y2="632.60" stroke="#20c820" stroke-width="1.3"/>
<line x1="384.85" y1="563.50" x2="391.85" y2="563.50" stroke="#20c820" stroke-width="1.3"/>
<line x1="384.85" y1="632.60" x2="391.85" y2="632.60" stroke="#20c820" stroke-width="1.3"/>
<rect x="381.85" y="588.70" width="13.00" height="37.00" fill="#80ff80" stroke="#20c820" stroke-width="1.3"/>
<line x1="381.85" y1="613.60" x2="394.85" y2="613.60" stroke="#20c820" stroke-width="1.3"/>
<line x1="410.00" y1="548.50" x2="410.00" y2="587.60" stroke="#20c820" stroke-width="1.3"/>
<line x1="410.00" y1="622.50" x2="410.00" y2="632.40" stroke="#20c820" stroke-width="1.3"/>
<line x1="406.50" y1="548.50" x2="413.50" y2="548.50" stroke="#20c820" stroke-width="1.3"/>
<line x1="406.50" y1="632.40" x2="413.50" y2="632.40" stroke="#20c820" stroke-width="1.3"/>
<rect x="403.50" y="587.60" width="13.00" height="34.90" fill="#80ff80" stroke="#20c820" stroke-width="1.3"/>
<line x1="403.50" y1="598.40" x2="416.50" y2="598.40" stroke="#20c820" stroke-width="1.3"/>
<line x1="431.65" y1="575.30" x2="431.65" y2="587.80" stroke="#20c820" stroke-width="1.3"/>
<line x1="431.65" y1="621.30" x2="431.65" y2="623.50" stroke="#20c820" stroke-width="1.3"/>
<line x1="428.15" y1="575.30" x2="435.15" y2="575.30" stroke="#20c820" stroke-width="1.3"/>
<line x1="428.15" y1="623.50" x2="435.15" y2="623.50" stroke="#20c820" stroke-width="1.3"/>
<rect x="425.15" y="587.80" width="13.00" height="33.50" fill="#80ff80" stroke="#20c820" stroke-width="1.3"/>
<line x1="425.15" y1="604.70" x2="438.15" y2="604.70" stroke="#20c820" stroke-width="1.3"/>
<line x1="453.30" y1="532.90" x2="453.30" y2="587.20" stroke="#20c820" stroke-width="1.3"/>
<line x1="453.30" y1="623.50" x2="453.30" y2="659.20" stroke="#20c820" stroke-width="1.3"/>
<line x1="449.80" y1="532.90" x2="456.80" y2="532.90" stroke="#20c820" stroke-width="1.3"/>
<line x1="449.80" y1="659.20" x2="456.80" y2="659.20" stroke="#20c820" stroke-width="1.3"/>
<rect x="446.80" y="587.20" width="13.00" height="36.30" fill="#80ff80" stroke="#20c820" stroke-width="1.3"/>
<line x1="446.80" y1="616.20" x2="459.80" y2="616.20" stroke="#20c820" stroke-width="1.3"/>
<line x1="474.95" y1="504.90" x2="474.95" y2="566.80" stroke="#20c820" stroke-width="1.3"/>
<line x1="474.95" y1="609.70" x2="474.95" y2="651.70" stroke="#20c820" stroke-width="1.3"/>
<line x1="471.45" y1="504.90" x2="478.45" y2="504.90" stroke="#20c820" stroke-width="1.3"/>
<line x1="471.45" y1="651.70" x2="478.45" y2="651.70" stroke="#20c820" stroke-width="1.3"/>
<rect x="468.45" y="566.80" width="13.00" height="42.90" fill="#80ff80" stroke="#20c820" stroke-width="1.3"/>
<line x1="468.45" y1="595.30" x2="481.45" y2="595.30" stroke="#20c820" stroke-width="1.3"/>
<line x1="496.60" y1="567.00" x2="496.60" y2="582.80" stroke="#20c820" stroke-width="1.3"/>
<line x1="496.60" y1="614.60" x2="496.60" y2="637.30" stroke="#20c820" stroke-width="1.3"/>
<line x1="493.10" y1="567.00" x2="500.10" y2="567.00" stroke="#20c820" stroke-width="1.3"/>
<line x1="493.10" y1="637.30" x2="500.10" y2="637.30" stroke="#20c820" stroke-width="1.3"/>
<rect x="490.10" y="582.80" width="13.00" height="31.80" fill="#80ff80" stroke="#20c820" stroke-width="1.3"/>
<line x1="490.10" y1="604.30" x2="503.10" y2="604.30" stroke="#20c820" stroke-width="1.3"/>
<line x1="518.25" y1="548.10" x2="518.25" y2="578.70" stroke="#20c820" stroke-width="1.3"/>
<line x1="518.25" y1="612.20" x2="518.25" y2="632.00" stroke="#20c820" stroke-width="1.3"/>
<line x1="514.75" y1="548.10" x2="521.75" y2="548.10" stroke="#20c820" stroke-width="1.3"/>
<line x1="514.75" y1="632.00" x2="521.75" y2="632.00" stroke="#20c820" stroke-width="1.3"/>
<rect x="511.75" y="578.70" width="13.00" height="33.50" fill="#80ff80" stroke="#20c820" stroke-width="1.3"/>
<line x1="511.75" y1="597.40" x2="524.75" y2="597.40" stroke="#20c820" stroke-width="1.3"/>
<line x1="539.90" y1="576.30" x2="539.90" y2="591.70" stroke="#20c820" stroke-width="1.3"/>
<line x1="539.90" y1="622.50" x2="539.90" y2="664.70" stroke="#20c820" stroke-width="1.3"/>
<line x1="536.40" y1="576.30" x2="543.40" y2="576.30" stroke="#20c820" stroke-width="1.3"/>
<line x1="536.40" y1="664.70" x2="543.40" y2="664.70" stroke="#20c820" stroke-width="1.3"/>
<rect x="533.40" y="591.70" width="13.00" height="30.80" fill="#80ff80" stroke="#20c820" stroke-width="1.3"/>
<line x1="533.40" y1="600.40" x2="546.40" y2="600.40" stroke="#20c820" stroke-width="1.3"/>
<line x1="561.55" y1="554.40" x2="561.55" y2="583.00" stroke="#20c820" stroke-width="1.3"/>
<line x1="561.55" y1="621.50" x2="561.55" y2="650.70" stroke="#20c820" stroke-width="1.3"/>
<line x1="558.05" y1="554.40" x2="565.05" y2="554.40" stroke="#20c820" stroke-width="1.3"/>
<line x1="558.05" y1="650.70" x2="565.05" y2="650.70" stroke="#20c820" stroke-width="1.3"/>
<rect x="555.05" y="583.00" width="13.00" height="38.50" fill="#80ff80" stroke="#20c820" stroke-width="1.3"/>
<line x1="555.05" y1="603.40" x2="568.05" y2="603.40" stroke="#20c820" stroke-width="1.3"/>
<line x1="583.20" y1="570.20" x2="583.20" y2="597.40" stroke="#20c820" stroke-width="1.3"/>
<line x1="583.20" y1="629.00" x2="583.20" y2="641.20" stroke="#20c820" stroke-width="1.3"/>
<line x1="579.70" y1="570.20" x2="586.70" y2="570.20" stroke="#20c820" stroke-width="1.3"/>
<line x1="579.70" y1="641.20" x2="586.70" y2="641.20" stroke="#20c820" stroke-width="1.3"/>
<rect x="576.70" y="597.40" width="13.00" height="31.60" fill="#80ff80" stroke="#20c820" stroke-width="1.3"/>
<line x1="576.70" y1="617.20" x2="589.70" y2="617.20" stroke="#20c820" stroke-width="1.3"/>
<line x1="604.85" y1="531.70" x2="604.85" y2="577.70" stroke="#20c820" stroke-width="1.3"/>
<line x1="604.85" y1="624.10" x2="604.85" y2="634.90" stroke="#20c820" stroke-width="1.3"/>
<line x1="601.35" y1="531.70" x2="608.35" y2="531.70" stroke="#20c820" stroke-width="1.3"/>
<line x1="601.35" y1="634.90" x2="608.35" y2="634.90" stroke="#20c820" stroke-width="1.3"/>
<rect x="598.35" y="577.70" width="13.00" height="46.40" fill="#80ff80" stroke="#20c820" stroke-width="1.3"/>
<line x1="598.35" y1="600.80" x2="611.35" y2="600.80" stroke="#20c820" stroke-width="1.3"/>
<line x1="626.50" y1="513.90" x2="626.50" y2="562.50" stroke="#20c820" stroke-width="1.3"/>
<line x1="626.50" y1="630.40" x2="626.50" y2="646.80" stroke="#20c820" stroke-width="1.3"/>
<line x1="623.00" y1="513.90" x2="630.00" y2="513.90" stroke="#20c820" stroke-width="1.3"/>
<line x1="623.00" y1="646.80" x2="630.00" y2="646.80" stroke="#20c820" stroke-width="1.3"/>
<rect x="620.00" y="562.50" width="13.00" height="67.90" fill="#80ff80" stroke="#20c820" stroke-width="1.3"/>
<line x1="620.00" y1="598.00" x2="633.00" y2="598.00" stroke="#20c820" stroke-width="1.3"/>
<line x1="648.15" y1="533.70" x2="648.15" y2="563.30" stroke="#20c820" stroke-width="1.3"/>
<line x1="648.15" y1="619.70" x2="648.15" y2="651.10" stroke="#20c820" stroke-width="1.3"/>
<line x1="644.65" y1="533.70" x2="651.65" y2="533.70" stroke="#20c820" stroke-width="1.3"/>
<line x1="644.65" y1="651.10" x2="651.65" y2="651.10" stroke="#20c820" stroke-width="1.3"/>
<rect x="641.65" y="563.30" width="13.00" height="56.40" fill="#80ff80" stroke="#20c820" stroke-width="1.3"/>
<line x1="641.65" y1="602.80" x2="654.65" y2="602.80" stroke="#20c820" stroke-width="1.3"/>
<line x1="669.80" y1="511.00" x2="669.80" y2="594.90" stroke="#20c820" stroke-width="1.3"/>
<line x1="669.80" y1="619.10" x2="669.80" y2="641.40" stroke="#20c820" stroke-width="1.3"/>
<line x1="666.30" y1="511.00" x2="673.30" y2="511.00" stroke="#20c820" stroke-width="1.3"/>
<line x1="666.30" y1="641.40" x2="673.30" y2="641.40" stroke="#20c820" stroke-width="1.3"/>
<rect x="663.30" y="594.90" width="13.00" height="24.20" fill="#80ff80" stroke="#20c820" stroke-width="1.3"/>
<line x1="663.30" y1="609.30" x2="676.30" y2="609.30" stroke="#20c820" stroke-width="1.3"/>
<line x1="691.45" y1="552.30" x2="691.45" y2="569.00" stroke="#20c820" stroke-width="1.3"/>
<line x1="691.45" y1="608.20" x2="691.45" y2="625.10" stroke="#20c820" stroke-width="1.3"/>
<line x1="687.95" y1="552.30" x2="694.95" y2="552.30" stroke="#20c820" stroke-width="1.3"/>
<line x1="687.95" y1="625.10" x2="694.95" y2="625.10" stroke="#20c820" stroke-width="1.3"/>
<rect x="684.95" y="569.00" width="13.00" height="39.20" fill="#80ff80" stroke="#20c820" stroke-width="1.3"/>
<line x1="684.95" y1="601.70" x2="697.95" y2="601.70" stroke="#20c820" stroke-width="1.3"/>
<line x1="713.10" y1="572.60" x2="713.10" y2="585.70" stroke="#20c820" stroke-width="1.3"/>
<line x1="713.10" y1="615.00" x2="713.10" y2="638.70" stroke="#20c820" stroke-width="1.3"/>
<line x1="709.60" y1="572.60" x2="716.60" y2="572.60" stroke="#20c820" stroke-width="1.3"/>
<line x1="709.60" y1="638.70" x2="716.60" y2="638.70" stroke="#20c820" stroke-width="1.3"/>
<rect x="706.60" y="585.70" width="13.00" height="29.30" fill="#80ff80" stroke="#20c820" stroke-width="1.3"/>
<line x1="706.60" y1="602.40" x2="719.60" y2="602.40" stroke="#20c820" stroke-width="1.3"/>
<line x1="49.6" y1="417.50" x2="49.6" y2="714.40" stroke="#000" stroke-width="3.2"/>
<line x1="40.2" y1="712.8" x2="730.2" y2="712.8" stroke="#000" stroke-width="3.2"/>
<line x1="40.2" y1="712.80" x2="49.6" y2="712.80" stroke="#000" stroke-width="3.2"/>
<text transform="translate(37,718.10) scale(1,1)" text-anchor="end" font-family='"Liberation Sans", sans-serif' font-weight="bold" font-size="15">0.00</text>
<line x1="40.2" y1="663.85" x2="49.6" y2="663.85" stroke="#000" stroke-width="3.2"/>
<text transform="translate(37,669.15) scale(1,1)" text-anchor="end" font-family='"Liberation Sans", sans-serif' font-weight="bold" font-size="15">0.50</text>
<line x1="40.2" y1="614.90" x2="49.6" y2="614.90" stroke="#000" stroke-width="3.2"/>
<text transform="translate(37,620.20) scale(1,1)" text-anchor="end" font-family='"Liberation Sans", sans-serif' font-weight="bold" font-size="15">1.00</text>
<line x1="40.2" y1="565.95" x2="49.6" y2="565.95" stroke="#000" stroke-width="3.2"/>
<text transform="translate(37,571.25) scale(1,1)" text-anchor="end" font-family='"Liberation Sans", sans-serif' font-weight="bold" font-size="15">1.50</text>
<line x1="40.2" y1="517.00" x2="49.6" y2="517.00" stroke="#000" stroke-width="3.2"/>
<text transform="translate(37,522.30) scale(1,1)" text-anchor="end" font-family='"Liberation Sans", sans-serif' font-weight="bold" font-size="15">2.00</text>
<line x1="40.2" y1="468.05" x2="49.6" y2="468.05" stroke="#000" stroke-width="3.2"/>
<text transform="translate(37,473.35) scale(1,1)" text-anchor="end" font-family='"Liberation Sans", sans-serif' font-weight="bold" font-size="15">2.50</text>
<line x1="40.2" y1="419.10" x2="49.6" y2="419.10" stroke="#000" stroke-width="3.2"/>
<text transform="translate(37,424.40) scale(1,1)" text-anchor="end" font-family='"Liberation Sans", sans-serif' font-weight="bold" font-size="15">3.00</text>
<line x1="44.2" y1="700.56" x2="49.6" y2="700.56" stroke="#000" stroke-width="2.8"/>
<line x1="44.2" y1="688.32" x2="49.6" y2="688.32" stroke="#000" stroke-width="2.8"/>
<line x1="44.2" y1="676.09" x2="49.6" y2="676.09" stroke="#000" stroke-width="2.8"/>
<line x1="44.2" y1="651.61" x2="49.6" y2="651.61" stroke="#000" stroke-width="2.8"/>
<line x1="44.2" y1="639.38" x2="49.6" y2="639.38" stroke="#000" stroke-width="2.8"/>
<line x1="44.2" y1="627.14" x2="49.6" y2="627.14" stroke="#000" stroke-width="2.8"/>
<line x1="44.2" y1="602.66" x2="49.6" y2="602.66" stroke="#000" stroke-width="2.8"/>
<line x1="44.2" y1="590.42" x2="49.6" y2="590.42" stroke="#000" stroke-width="2.8"/>
<line x1="44.2" y1="578.19" x2="49.6" y2="578.19" stroke="#000" stroke-width="2.8"/>
<line x1="44.2" y1="553.71" x2="49.6" y2="553.71" stroke="#000" stroke-width="2.8"/>
<line x1="44.2" y1="541.47" x2="49.6" y2="541.47" stroke="#000" stroke-width="2.8"/>
<line x1="44.2" y1="529.24" x2="49.6" y2="529.24" stroke="#000" stroke-width="2.8"/>
<line x1="44.2" y1="504.76" x2="49.6" y2="504.76" stroke="#000" stroke-width="2.8"/>
<line x1="44.2" y1="492.52" x2="49.6" y2="492.52" stroke="#000" stroke-width="2.8"/>
<line x1="44.2" y1="480.29" x2="49.6" y2="480.29" stroke="#000" stroke-width="2.8"/>
<line x1="44.2" y1="455.81" x2="49.6" y2="455.81" stroke="#000" stroke-width="2.8"/>
<line x1="44.2" y1="443.57" x2="49.6" y2="443.57" stroke="#000" stroke-width="2.8"/>
<line x1="44.2" y1="431.34" x2="49.6" y2="431.34" stroke="#000" stroke-width="2.8"/>
<line x1="63.60" y1="712.8" x2="63.60" y2="723.2" stroke="#000" stroke-width="3"/>
<text transform="translate(68.90,725.6) rotate(-90)" text-anchor="end" font-family='"Liberation Sans", sans-serif' font-weight="bold" font-size="15.1" style="font-kerning:none">CSF1PO</text>
<line x1="85.25" y1="712.8" x2="85.25" y2="723.2" stroke="#000" stroke-width="3"/>
<text transform="translate(90.55,725.6) rotate(-90)" text-anchor="end" font-family='"Liberation Sans", sans-serif' font-weight="bold" font-size="15.1" style="font-kerning:none">D10S1248</text>
<line x1="106.90" y1="712.8" x2="106.90" y2="723.2" stroke="#000" stroke-width="3"/>
<text transform="translate(112.20,725.6) rotate(-90)" text-anchor="end" font-family='"Liberation Sans", sans-serif' font-weight="bold" font-size="15.1" style="font-kerning:none">D12ATA63</text>
<line x1="128.55" y1="712.8" x2="128.55" y2="723.2" stroke="#000" stroke-width="3"/>
<text transform="translate(133.85,725.6) rotate(-90)" text-anchor="end" font-family='"Liberation Sans", sans-serif' font-weight="bold" font-size="15.1" style="font-kerning:none">D12S391</text>
<line x1="150.20" y1="712.8" x2="150.20" y2="723.2" stroke="#000" stroke-width="3"/>
<text transform="translate(155.50,725.6) rotate(-90)" text-anchor="end" font-family='"Liberation Sans", sans-serif' font-weight="bold" font-size="15.1" style="font-kerning:none">D13S317</text>
<line x1="171.85" y1="712.8" x2="171.85" y2="723.2" stroke="#000" stroke-width="3"/>
<text transform="translate(177.15,725.6) rotate(-90)" text-anchor="end" font-family='"Liberation Sans", sans-serif' font-weight="bold" font-size="15.1" style="font-kerning:none">D14S1434</text>
<line x1="193.50" y1="712.8" x2="193.50" y2="723.2" stroke="#000" stroke-width="3"/>
<text transform="translate(198.80,725.6) rotate(-90)" text-anchor="end" font-family='"Liberation Sans", sans-serif' font-weight="bold" font-size="15.1" style="font-kerning:none">D16S539</text>
<line x1="215.15" y1="712.8" x2="215.15" y2="723.2" stroke="#000" stroke-width="3"/>
<text transform="translate(220.45,725.6) rotate(-90)" text-anchor="end" font-family='"Liberation Sans", sans-serif' font-weight="bold" font-size="15.1" style="font-kerning:none">D18S51</text>
<line x1="236.80" y1="712.8" x2="236.80" y2="723.2" stroke="#000" stroke-width="3"/>
<text transform="translate(242.10,725.6) rotate(-90)" text-anchor="end" font-family='"Liberation Sans", sans-serif' font-weight="bold" font-size="15.1" style="font-kerning:none">D19S433</text>
<line x1="258.45" y1="712.8" x2="258.45" y2="723.2" stroke="#000" stroke-width="3"/>
<text transform="translate(263.75,725.6) rotate(-90)" text-anchor="end" font-family='"Liberation Sans", sans-serif' font-weight="bold" font-size="15.1" style="font-kerning:none">D1S1656</text>
<line x1="280.10" y1="712.8" x2="280.10" y2="723.2" stroke="#000" stroke-width="3"/>
<text transform="translate(285.40,725.6) rotate(-90)" text-anchor="end" font-family='"Liberation Sans", sans-serif' font-weight="bold" font-size="15.1" style="font-kerning:none">D1S1677</text>
<line x1="301.75" y1="712.8" x2="301.75" y2="723.2" stroke="#000" stroke-width="3"/>
<text transform="translate(307.05,725.6) rotate(-90)" text-anchor="end" font-family='"Liberation Sans", sans-serif' font-weight="bold" font-size="15.1" style="font-kerning:none">D21S11</text>
<line x1="323.40" y1="712.8" x2="323.40" y2="723.2" stroke="#000" stroke-width="3"/>
<text transform="translate(328.70,725.6) rotate(-90)" text-anchor="end" font-family='"Liberation Sans", sans-serif' font-weight="bold" font-size="15.1" style="font-kerning:none">D22S1045</text>
<line x1="345.05" y1="712.8" x2="345.05" y2="723.2" stroke="#000" stroke-width="3"/>
<text transform="translate(350.35,725.6) rotate(-90)" text-anchor="end" font-family='"Liberation Sans", sans-serif' font-weight="bold" font-size="15.1" style="font-kerning:none">D2S1338</text>
<line x1="366.70" y1="712.8" x2="366.70" y2="723.2" stroke="#000" stroke-width="3"/>
<text transform="translate(372.00,725.6) rotate(-90)" text-anchor="end" font-family='"Liberation Sans", sans-serif' font-weight="bold" font-size="15.1" style="font-kerning:none">D2S1776</text>
<line x1="388.35" y1="712.8" x2="388.35" y2="723.2" stroke="#000" stroke-width="3"/>
<text transform="translate(393.65,725.6) rotate(-90)" text-anchor="end" font-family='"Liberation Sans", sans-serif' font-weight="bold" font-size="15.1" style="font-kerning:none">D2S441</text>
<line x1="410.00" y1="712.8" x2="410.00" y2="723.2" stroke="#000" stroke-width="3"/>
<text transform="translate(415.30,725.6) rotate(-90)" text-anchor="end" font-family='"Liberation Sans", sans-serif' font-weight="bold" font-size="15.1" style="font-kerning:none">D3S1358</text>
<line x1="431.65" y1="712.8" x2="431.65" y2="723.2" stroke="#000" stroke-width="3"/>
<text transform="translate(436.95,725.6) rotate(-90)" text-anchor="end" font-family='"Liberation Sans", sans-serif' font-weight="bold" font-size="15.1" style="font-kerning:none">D3S4529</text>
<line x1="453.30" y1="712.8" x2="453.30" y2="723.2" stroke="#000" stroke-width="3"/>
<text transform="translate(458.60,725.6) rotate(-90)" text-anchor="end" font-family='"Liberation Sans", sans-serif' font-weight="bold" font-size="15.1" style="font-kerning:none">D4S2408</text>
<line x1="474.95" y1="712.8" x2="474.95" y2="723.2" stroke="#000" stroke-width="3"/>
<text transform="translate(480.25,725.6) rotate(-90)" text-anchor="end" font-family='"Liberation Sans", sans-serif' font-weight="bold" font-size="15.1" style="font-kerning:none">D5S2800</text>
<line x1="496.60" y1="712.8" x2="496.60" y2="723.2" stroke="#000" stroke-width="3"/>
<text transform="translate(501.90,725.6) rotate(-90)" text-anchor="end" font-family='"Liberation Sans", sans-serif' font-weight="bold" font-size="15.1" style="font-kerning:none">D5S818</text>
<line x1="518.25" y1="712.8" x2="518.25" y2="723.2" stroke="#000" stroke-width="3"/>
<text transform="translate(523.55,725.6) rotate(-90)" text-anchor="end" font-family='"Liberation Sans", sans-serif' font-weight="bold" font-size="15.1" style="font-kerning:none">D6S1043</text>
<line x1="539.90" y1="712.8" x2="539.90" y2="723.2" stroke="#000" stroke-width="3"/>
<text transform="translate(545.20,725.6) rotate(-90)" text-anchor="end" font-family='"Liberation Sans", sans-serif' font-weight="bold" font-size="15.1" style="font-kerning:none">D6S474</text>
<line x1="561.55" y1="712.8" x2="561.55" y2="723.2" stroke="#000" stroke-width="3"/>
<text transform="translate(566.85,725.6) rotate(-90)" text-anchor="end" font-family='"Liberation Sans", sans-serif' font-weight="bold" font-size="15.1" style="font-kerning:none">D7S820</text>
<line x1="583.20" y1="712.8" x2="583.20" y2="723.2" stroke="#000" stroke-width="3"/>
<text transform="translate(588.50,725.6) rotate(-90)" text-anchor="end" font-family='"Liberation Sans", sans-serif' font-weight="bold" font-size="15.1" style="font-kerning:none">D8S1179</text>
<line x1="604.85" y1="712.8" x2="604.85" y2="723.2" stroke="#000" stroke-width="3"/>
<text transform="translate(610.15,725.6) rotate(-90)" text-anchor="end" font-family='"Liberation Sans", sans-serif' font-weight="bold" font-size="15.1" style="font-kerning:none">FGA</text>
<line x1="626.50" y1="712.8" x2="626.50" y2="723.2" stroke="#000" stroke-width="3"/>
<text transform="translate(631.80,725.6) rotate(-90)" text-anchor="end" font-family='"Liberation Sans", sans-serif' font-weight="bold" font-size="15.1" style="font-kerning:none">Penta_D</text>
<line x1="648.15" y1="712.8" x2="648.15" y2="723.2" stroke="#000" stroke-width="3"/>
<text transform="translate(653.45,725.6) rotate(-90)" text-anchor="end" font-family='"Liberation Sans", sans-serif' font-weight="bold" font-size="15.1" style="font-kerning:none">Penta_E</text>
<line x1="669.80" y1="712.8" x2="669.80" y2="723.2" stroke="#000" stroke-width="3"/>
<text transform="translate(675.10,725.6) rotate(-90)" text-anchor="end" font-family='"Liberation Sans", sans-serif' font-weight="bold" font-size="15.1" style="font-kerning:none">TH01</text>
<line x1="691.45" y1="712.8" x2="691.45" y2="723.2" stroke="#000" stroke-width="3"/>
<text transform="translate(696.75,725.6) rotate(-90)" text-anchor="end" font-family='"Liberation Sans", sans-serif' font-weight="bold" font-size="15.1" style="font-kerning:none">TPOX</text>
<line x1="713.10" y1="712.8" x2="713.10" y2="723.2" stroke="#000" stroke-width="3"/>
<text transform="translate(718.40,725.6) rotate(-90)" text-anchor="end" font-family='"Liberation Sans", sans-serif' font-weight="bold" font-size="15.1" style="font-kerning:none">vWA</text>
<text x="54.3" y="422.6" font-family='"Liberation Serif", serif' font-weight="bold" font-size="22.3">(b)</text>
<line x1="156.50" y1="919.40" x2="156.50" y2="928.40" stroke="#111" stroke-width="1.4"/>
<line x1="156.50" y1="955.90" x2="156.50" y2="990.00" stroke="#111" stroke-width="1.4"/>
<line x1="153.50" y1="919.40" x2="159.50" y2="919.40" stroke="#111" stroke-width="1.4"/>
<line x1="153.50" y1="990.00" x2="159.50" y2="990.00" stroke="#111" stroke-width="1.4"/>
<rect x="151.85" y="928.40" width="9.30" height="27.50" fill="#f9dc14" stroke="#111" stroke-width="1.6"/>
<line x1="151.85" y1="939.60" x2="161.15" y2="939.60" stroke="#111" stroke-width="1.6"/>
<line x1="171.55" y1="925.40" x2="171.55" y2="931.00" stroke="#111" stroke-width="1.4"/>
<line x1="171.55" y1="948.60" x2="171.55" y2="981.50" stroke="#111" stroke-width="1.4"/>
<line x1="168.55" y1="925.40" x2="174.55" y2="925.40" stroke="#111" stroke-width="1.4"/>
<line x1="168.55" y1="981.50" x2="174.55" y2="981.50" stroke="#111" stroke-width="1.4"/>
<rect x="166.90" y="931.00" width="9.30" height="17.60" fill="#f9dc14" stroke="#111" stroke-width="1.6"/>
<line x1="166.90" y1="937.20" x2="176.20" y2="937.20" stroke="#111" stroke-width="1.6"/>
<line x1="186.60" y1="925.00" x2="186.60" y2="944.80" stroke="#111" stroke-width="1.4"/>
<line x1="186.60" y1="974.00" x2="186.60" y2="1023.40" stroke="#111" stroke-width="1.4"/>
<line x1="183.60" y1="925.00" x2="189.60" y2="925.00" stroke="#111" stroke-width="1.4"/>
<line x1="183.60" y1="1023.40" x2="189.60" y2="1023.40" stroke="#111" stroke-width="1.4"/>
<rect x="181.95" y="944.80" width="9.30" height="29.20" fill="#f9dc14" stroke="#111" stroke-width="1.6"/>
<line x1="181.95" y1="950.40" x2="191.25" y2="950.40" stroke="#111" stroke-width="1.6"/>
<line x1="201.65" y1="902.30" x2="201.65" y2="941.50" stroke="#111" stroke-width="1.4"/>
<line x1="201.65" y1="965.10" x2="201.65" y2="984.30" stroke="#111" stroke-width="1.4"/>
<line x1="198.65" y1="902.30" x2="204.65" y2="902.30" stroke="#111" stroke-width="1.4"/>
<line x1="198.65" y1="984.30" x2="204.65" y2="984.30" stroke="#111" stroke-width="1.4"/>
<rect x="197.00" y="941.50" width="9.30" height="23.60" fill="#f9dc14" stroke="#111" stroke-width="1.6"/>
<line x1="197.00" y1="947.80" x2="206.30" y2="947.80" stroke="#111" stroke-width="1.6"/>
<line x1="216.70" y1="927.80" x2="216.70" y2="939.00" stroke="#111" stroke-width="1.4"/>
<line x1="216.70" y1="955.70" x2="216.70" y2="1140.20" stroke="#111" stroke-width="1.4"/>
<line x1="213.70" y1="927.80" x2="219.70" y2="927.80" stroke="#111" stroke-width="1.4"/>
<line x1="213.70" y1="1140.20" x2="219.70" y2="1140.20" stroke="#111" stroke-width="1.4"/>
<rect x="212.05" y="939.00" width="9.30" height="16.70" fill="#f9dc14" stroke="#111" stroke-width="1.6"/>
<line x1="212.05" y1="944.00" x2="221.35" y2="944.00" stroke="#111" stroke-width="1.6"/>
<line x1="231.75" y1="927.10" x2="231.75" y2="941.10" stroke="#111" stroke-width="1.4"/>
<line x1="231.75" y1="960.90" x2="231.75" y2="1116.90" stroke="#111" stroke-width="1.4"/>
<line x1="228.75" y1="927.10" x2="234.75" y2="927.10" stroke="#111" stroke-width="1.4"/>
<line x1="228.75" y1="1116.90" x2="234.75" y2="1116.90" stroke="#111" stroke-width="1.4"/>
<rect x="227.10" y="941.10" width="9.30" height="19.80" fill="#f9dc14" stroke="#111" stroke-width="1.6"/>
<line x1="227.10" y1="956.30" x2="236.40" y2="956.30" stroke="#111" stroke-width="1.6"/>
<line x1="246.80" y1="927.10" x2="246.80" y2="949.20" stroke="#111" stroke-width="1.4"/>
<line x1="246.80" y1="974.80" x2="246.80" y2="1132.00" stroke="#111" stroke-width="1.4"/>
<line x1="243.80" y1="927.10" x2="249.80" y2="927.10" stroke="#111" stroke-width="1.4"/>
<line x1="243.80" y1="1132.00" x2="249.80" y2="1132.00" stroke="#111" stroke-width="1.4"/>
<rect x="242.15" y="949.20" width="9.30" height="25.60" fill="#f9dc14" stroke="#111" stroke-width="1.6"/>
<line x1="242.15" y1="963.50" x2="251.45" y2="963.50" stroke="#111" stroke-width="1.6"/>
<line x1="261.85" y1="927.90" x2="261.85" y2="953.40" stroke="#111" stroke-width="1.4"/>
<line x1="261.85" y1="969.20" x2="261.85" y2="1010.70" stroke="#111" stroke-width="1.4"/>
<line x1="258.85" y1="927.90" x2="264.85" y2="927.90" stroke="#111" stroke-width="1.4"/>
<line x1="258.85" y1="1010.70" x2="264.85" y2="1010.70" stroke="#111" stroke-width="1.4"/>
<rect x="257.20" y="953.40" width="9.30" height="15.80" fill="#f9dc14" stroke="#111" stroke-width="1.6"/>
<line x1="257.20" y1="964.30" x2="266.50" y2="964.30" stroke="#111" stroke-width="1.6"/>
<line x1="276.90" y1="924.80" x2="276.90" y2="940.10" stroke="#111" stroke-width="1.4"/>
<line x1="276.90" y1="965.10" x2="276.90" y2="991.60" stroke="#111" stroke-width="1.4"/>
<line x1="273.90" y1="924.80" x2="279.90" y2="924.80" stroke="#111" stroke-width="1.4"/>
<line x1="273.90" y1="991.60" x2="279.90" y2="991.60" stroke="#111" stroke-width="1.4"/>
<rect x="272.25" y="940.10" width="9.30" height="25.00" fill="#f9dc14" stroke="#111" stroke-width="1.6"/>
<line x1="272.25" y1="951.30" x2="281.55" y2="951.30" stroke="#111" stroke-width="1.6"/>
<line x1="291.95" y1="924.80" x2="291.95" y2="938.50" stroke="#111" stroke-width="1.4"/>
<line x1="291.95" y1="960.90" x2="291.95" y2="983.30" stroke="#111" stroke-width="1.4"/>
<line x1="288.95" y1="924.80" x2="294.95" y2="924.80" stroke="#111" stroke-width="1.4"/>
<line x1="288.95" y1="983.30" x2="294.95" y2="983.30" stroke="#111" stroke-width="1.4"/>
<rect x="287.30" y="938.50" width="9.30" height="22.40" fill="#f9dc14" stroke="#111" stroke-width="1.6"/>
<line x1="287.30" y1="945.80" x2="296.60" y2="945.80" stroke="#111" stroke-width="1.6"/>
<line x1="307.00" y1="925.30" x2="307.00" y2="946.60" stroke="#111" stroke-width="1.4"/>
<line x1="307.00" y1="965.80" x2="307.00" y2="975.90" stroke="#111" stroke-width="1.4"/>
<line x1="304.00" y1="925.30" x2="310.00" y2="925.30" stroke="#111" stroke-width="1.4"/>
<line x1="304.00" y1="975.90" x2="310.00" y2="975.90" stroke="#111" stroke-width="1.4"/>
<rect x="302.35" y="946.60" width="9.30" height="19.20" fill="#f9dc14" stroke="#111" stroke-width="1.6"/>
<line x1="302.35" y1="958.90" x2="311.65" y2="958.90" stroke="#111" stroke-width="1.6"/>
<line x1="322.05" y1="925.30" x2="322.05" y2="954.60" stroke="#111" stroke-width="1.4"/>
<line x1="322.05" y1="966.70" x2="322.05" y2="977.50" stroke="#111" stroke-width="1.4"/>
<line x1="319.05" y1="925.30" x2="325.05" y2="925.30" stroke="#111" stroke-width="1.4"/>
<line x1="319.05" y1="977.50" x2="325.05" y2="977.50" stroke="#111" stroke-width="1.4"/>
<rect x="317.40" y="954.60" width="9.30" height="12.10" fill="#f9dc14" stroke="#111" stroke-width="1.6"/>
<line x1="317.40" y1="962.20" x2="326.70" y2="962.20" stroke="#111" stroke-width="1.6"/>
<line x1="337.10" y1="926.70" x2="337.10" y2="944.60" stroke="#111" stroke-width="1.4"/>
<line x1="337.10" y1="967.10" x2="337.10" y2="977.50" stroke="#111" stroke-width="1.4"/>
<line x1="334.10" y1="926.70" x2="340.10" y2="926.70" stroke="#111" stroke-width="1.4"/>
<line x1="334.10" y1="977.50" x2="340.10" y2="977.50" stroke="#111" stroke-width="1.4"/>
<rect x="332.45" y="944.60" width="9.30" height="22.50" fill="#f9dc14" stroke="#111" stroke-width="1.6"/>
<line x1="332.45" y1="958.50" x2="341.75" y2="958.50" stroke="#111" stroke-width="1.6"/>
<line x1="352.15" y1="926.70" x2="352.15" y2="935.90" stroke="#111" stroke-width="1.4"/>
<line x1="352.15" y1="961.10" x2="352.15" y2="968.90" stroke="#111" stroke-width="1.4"/>
<line x1="349.15" y1="926.70" x2="355.15" y2="926.70" stroke="#111" stroke-width="1.4"/>
<line x1="349.15" y1="968.90" x2="355.15" y2="968.90" stroke="#111" stroke-width="1.4"/>
<rect x="347.50" y="935.90" width="9.30" height="25.20" fill="#f9dc14" stroke="#111" stroke-width="1.6"/>
<line x1="347.50" y1="955.50" x2="356.80" y2="955.50" stroke="#111" stroke-width="1.6"/>
<line x1="367.20" y1="932.60" x2="367.20" y2="951.50" stroke="#111" stroke-width="1.4"/>
<line x1="367.20" y1="976.20" x2="367.20" y2="1043.10" stroke="#111" stroke-width="1.4"/>
<line x1="364.20" y1="932.60" x2="370.20" y2="932.60" stroke="#111" stroke-width="1.4"/>
<line x1="364.20" y1="1043.10" x2="370.20" y2="1043.10" stroke="#111" stroke-width="1.4"/>
<rect x="362.55" y="951.50" width="9.30" height="24.70" fill="#f9dc14" stroke="#111" stroke-width="1.6"/>
<line x1="362.55" y1="961.10" x2="371.85" y2="961.10" stroke="#111" stroke-width="1.6"/>
<line x1="382.25" y1="927.10" x2="382.25" y2="943.60" stroke="#111" stroke-width="1.4"/>
<line x1="382.25" y1="972.00" x2="382.25" y2="1055.70" stroke="#111" stroke-width="1.4"/>
<line x1="379.25" y1="927.10" x2="385.25" y2="927.10" stroke="#111" stroke-width="1.4"/>
<line x1="379.25" y1="1055.70" x2="385.25" y2="1055.70" stroke="#111" stroke-width="1.4"/>
<rect x="377.60" y="943.60" width="9.30" height="28.40" fill="#f9dc14" stroke="#111" stroke-width="1.6"/>
<line x1="377.60" y1="957.20" x2="386.90" y2="957.20" stroke="#111" stroke-width="1.6"/>
<line x1="397.30" y1="929.80" x2="397.30" y2="940.60" stroke="#111" stroke-width="1.4"/>
<line x1="397.30" y1="966.70" x2="397.30" y2="982.40" stroke="#111" stroke-width="1.4"/>
<line x1="394.30" y1="929.80" x2="400.30" y2="929.80" stroke="#111" stroke-width="1.4"/>
<line x1="394.30" y1="982.40" x2="400.30" y2="982.40" stroke="#111" stroke-width="1.4"/>
<rect x="392.65" y="940.60" width="9.30" height="26.10" fill="#f9dc14" stroke="#111" stroke-width="1.6"/>
<line x1="392.65" y1="950.80" x2="401.95" y2="950.80" stroke="#111" stroke-width="1.6"/>
<line x1="427.40" y1="925.00" x2="427.40" y2="935.90" stroke="#111" stroke-width="1.4"/>
<line x1="427.40" y1="955.60" x2="427.40" y2="962.40" stroke="#111" stroke-width="1.4"/>
<line x1="424.40" y1="925.00" x2="430.40" y2="925.00" stroke="#111" stroke-width="1.4"/>
<line x1="424.40" y1="962.40" x2="430.40" y2="962.40" stroke="#111" stroke-width="1.4"/>
<rect x="422.75" y="935.90" width="9.30" height="19.70" fill="#f9dc14" stroke="#111" stroke-width="1.6"/>
<line x1="422.75" y1="947.20" x2="432.05" y2="947.20" stroke="#111" stroke-width="1.6"/>
<line x1="442.45" y1="926.60" x2="442.45" y2="936.80" stroke="#111" stroke-width="1.4"/>
<line x1="442.45" y1="956.30" x2="442.45" y2="965.80" stroke="#111" stroke-width="1.4"/>
<line x1="439.45" y1="926.60" x2="445.45" y2="926.60" stroke="#111" stroke-width="1.4"/>
<line x1="439.45" y1="965.80" x2="445.45" y2="965.80" stroke="#111" stroke-width="1.4"/>
<rect x="437.80" y="936.80" width="9.30" height="19.50" fill="#f9dc14" stroke="#111" stroke-width="1.6"/>
<line x1="437.80" y1="942.00" x2="447.10" y2="942.00" stroke="#111" stroke-width="1.6"/>
<line x1="457.50" y1="926.60" x2="457.50" y2="936.30" stroke="#111" stroke-width="1.4"/>
<line x1="457.50" y1="959.00" x2="457.50" y2="986.70" stroke="#111" stroke-width="1.4"/>
<line x1="454.50" y1="926.60" x2="460.50" y2="926.60" stroke="#111" stroke-width="1.4"/>
<line x1="454.50" y1="986.70" x2="460.50" y2="986.70" stroke="#111" stroke-width="1.4"/>
<rect x="452.85" y="936.30" width="9.30" height="22.70" fill="#f9dc14" stroke="#111" stroke-width="1.6"/>
<line x1="452.85" y1="942.80" x2="462.15" y2="942.80" stroke="#111" stroke-width="1.6"/>
<line x1="472.55" y1="925.00" x2="472.55" y2="938.80" stroke="#111" stroke-width="1.4"/>
<line x1="472.55" y1="961.90" x2="472.55" y2="981.90" stroke="#111" stroke-width="1.4"/>
<line x1="469.55" y1="925.00" x2="475.55" y2="925.00" stroke="#111" stroke-width="1.4"/>
<line x1="469.55" y1="981.90" x2="475.55" y2="981.90" stroke="#111" stroke-width="1.4"/>
<rect x="467.90" y="938.80" width="9.30" height="23.10" fill="#f9dc14" stroke="#111" stroke-width="1.6"/>
<line x1="467.90" y1="951.80" x2="477.20" y2="951.80" stroke="#111" stroke-width="1.6"/>
<line x1="487.60" y1="925.30" x2="487.60" y2="934.50" stroke="#111" stroke-width="1.4"/>
<line x1="487.60" y1="953.80" x2="487.60" y2="977.00" stroke="#111" stroke-width="1.4"/>
<line x1="484.60" y1="925.30" x2="490.60" y2="925.30" stroke="#111" stroke-width="1.4"/>
<line x1="484.60" y1="977.00" x2="490.60" y2="977.00" stroke="#111" stroke-width="1.4"/>
<rect x="482.95" y="934.50" width="9.30" height="19.30" fill="#f9dc14" stroke="#111" stroke-width="1.6"/>
<line x1="482.95" y1="942.80" x2="492.25" y2="942.80" stroke="#111" stroke-width="1.6"/>
<line x1="502.65" y1="926.60" x2="502.65" y2="936.80" stroke="#111" stroke-width="1.4"/>
<line x1="502.65" y1="953.40" x2="502.65" y2="1140.70" stroke="#111" stroke-width="1.4"/>
<line x1="499.65" y1="926.60" x2="505.65" y2="926.60" stroke="#111" stroke-width="1.4"/>
<line x1="499.65" y1="1140.70" x2="505.65" y2="1140.70" stroke="#111" stroke-width="1.4"/>
<rect x="498.00" y="936.80" width="9.30" height="16.60" fill="#f9dc14" stroke="#111" stroke-width="1.6"/>
<line x1="498.00" y1="949.70" x2="507.30" y2="949.70" stroke="#111" stroke-width="1.6"/>
<line x1="517.70" y1="914.70" x2="517.70" y2="934.70" stroke="#111" stroke-width="1.4"/>
<line x1="517.70" y1="961.90" x2="517.70" y2="987.20" stroke="#111" stroke-width="1.4"/>
<line x1="514.70" y1="914.70" x2="520.70" y2="914.70" stroke="#111" stroke-width="1.4"/>
<line x1="514.70" y1="987.20" x2="520.70" y2="987.20" stroke="#111" stroke-width="1.4"/>
<rect x="513.05" y="934.70" width="9.30" height="27.20" fill="#f9dc14" stroke="#111" stroke-width="1.6"/>
<line x1="513.05" y1="946.90" x2="522.35" y2="946.90" stroke="#111" stroke-width="1.6"/>
<line x1="532.75" y1="925.40" x2="532.75" y2="931.60" stroke="#111" stroke-width="1.4"/>
<line x1="532.75" y1="963.20" x2="532.75" y2="982.70" stroke="#111" stroke-width="1.4"/>
<line x1="529.75" y1="925.40" x2="535.75" y2="925.40" stroke="#111" stroke-width="1.4"/>
<line x1="529.75" y1="982.70" x2="535.75" y2="982.70" stroke="#111" stroke-width="1.4"/>
<rect x="528.10" y="931.60" width="9.30" height="31.60" fill="#f9dc14" stroke="#111" stroke-width="1.6"/>
<line x1="528.10" y1="946.10" x2="537.40" y2="946.10" stroke="#111" stroke-width="1.6"/>
<line x1="547.80" y1="927.90" x2="547.80" y2="932.00" stroke="#111" stroke-width="1.4"/>
<line x1="547.80" y1="963.20" x2="547.80" y2="989.20" stroke="#111" stroke-width="1.4"/>
<line x1="544.80" y1="927.90" x2="550.80" y2="927.90" stroke="#111" stroke-width="1.4"/>
<line x1="544.80" y1="989.20" x2="550.80" y2="989.20" stroke="#111" stroke-width="1.4"/>
<rect x="543.15" y="932.00" width="9.30" height="31.20" fill="#f9dc14" stroke="#111" stroke-width="1.6"/>
<line x1="543.15" y1="943.70" x2="552.45" y2="943.70" stroke="#111" stroke-width="1.6"/>
<line x1="562.85" y1="926.60" x2="562.85" y2="934.00" stroke="#111" stroke-width="1.4"/>
<line x1="562.85" y1="967.50" x2="562.85" y2="995.70" stroke="#111" stroke-width="1.4"/>
<line x1="559.85" y1="926.60" x2="565.85" y2="926.60" stroke="#111" stroke-width="1.4"/>
<line x1="559.85" y1="995.70" x2="565.85" y2="995.70" stroke="#111" stroke-width="1.4"/>
<rect x="558.20" y="934.00" width="9.30" height="33.50" fill="#f9dc14" stroke="#111" stroke-width="1.6"/>
<line x1="558.20" y1="949.70" x2="567.50" y2="949.70" stroke="#111" stroke-width="1.6"/>
<line x1="577.90" y1="926.10" x2="577.90" y2="938.50" stroke="#111" stroke-width="1.4"/>
<line x1="577.90" y1="970.50" x2="577.90" y2="1002.20" stroke="#111" stroke-width="1.4"/>
<line x1="574.90" y1="926.10" x2="580.90" y2="926.10" stroke="#111" stroke-width="1.4"/>
<line x1="574.90" y1="1002.20" x2="580.90" y2="1002.20" stroke="#111" stroke-width="1.4"/>
<rect x="573.25" y="938.50" width="9.30" height="32.00" fill="#f9dc14" stroke="#111" stroke-width="1.6"/>
<line x1="573.25" y1="948.20" x2="582.55" y2="948.20" stroke="#111" stroke-width="1.6"/>
<line x1="592.95" y1="929.50" x2="592.95" y2="938.80" stroke="#111" stroke-width="1.4"/>
<line x1="592.95" y1="977.60" x2="592.95" y2="1008.70" stroke="#111" stroke-width="1.4"/>
<line x1="589.95" y1="929.50" x2="595.95" y2="929.50" stroke="#111" stroke-width="1.4"/>
<line x1="589.95" y1="1008.70" x2="595.95" y2="1008.70" stroke="#111" stroke-width="1.4"/>
<rect x="588.30" y="938.80" width="9.30" height="38.80" fill="#f9dc14" stroke="#111" stroke-width="1.6"/>
<line x1="588.30" y1="950.30" x2="597.60" y2="950.30" stroke="#111" stroke-width="1.6"/>
<line x1="608.00" y1="926.60" x2="608.00" y2="936.60" stroke="#111" stroke-width="1.4"/>
<line x1="608.00" y1="982.60" x2="608.00" y2="1015.10" stroke="#111" stroke-width="1.4"/>
<line x1="605.00" y1="926.60" x2="611.00" y2="926.60" stroke="#111" stroke-width="1.4"/>
<line x1="605.00" y1="1015.10" x2="611.00" y2="1015.10" stroke="#111" stroke-width="1.4"/>
<rect x="603.35" y="936.60" width="9.30" height="46.00" fill="#f9dc14" stroke="#111" stroke-width="1.6"/>
<line x1="603.35" y1="949.30" x2="612.65" y2="949.30" stroke="#111" stroke-width="1.6"/>
<line x1="149.0" y1="830.30" x2="149.0" y2="1144.60" stroke="#000" stroke-width="1.8"/>
<line x1="144.0" y1="1143.7" x2="618.8" y2="1143.7" stroke="#000" stroke-width="1.8"/>
<line x1="144.0" y1="1143.70" x2="149.0" y2="1143.70" stroke="#000" stroke-width="1.8"/>
<text transform="translate(143.2,1147.90) scale(1.06,1)" text-anchor="end" font-family='"Liberation Sans", sans-serif' font-weight="bold" font-size="11.6">0.00</text>
<line x1="144.0" y1="1065.58" x2="149.0" y2="1065.58" stroke="#000" stroke-width="1.8"/>
<text transform="translate(143.2,1069.78) scale(1.06,1)" text-anchor="end" font-family='"Liberation Sans", sans-serif' font-weight="bold" font-size="11.6">0.05</text>
<line x1="144.0" y1="987.45" x2="149.0" y2="987.45" stroke="#000" stroke-width="1.8"/>
<text transform="translate(143.2,991.65) scale(1.06,1)" text-anchor="end" font-family='"Liberation Sans", sans-serif' font-weight="bold" font-size="11.6">0.10</text>
<line x1="144.0" y1="909.33" x2="149.0" y2="909.33" stroke="#000" stroke-width="1.8"/>
<text transform="translate(143.2,913.53) scale(1.06,1)" text-anchor="end" font-family='"Liberation Sans", sans-serif' font-weight="bold" font-size="11.6">0.15</text>
<line x1="144.0" y1="831.20" x2="149.0" y2="831.20" stroke="#000" stroke-width="1.8"/>
<text transform="translate(143.2,835.40) scale(1.06,1)" text-anchor="end" font-family='"Liberation Sans", sans-serif' font-weight="bold" font-size="11.6">0.20</text>
<line x1="156.50" y1="1143.7" x2="156.50" y2="1148.6" stroke="#000" stroke-width="1.5"/>
<text transform="translate(160.70,1151.6) rotate(-90)" text-anchor="end" font-family='"Liberation Sans", sans-serif' font-weight="bold" font-size="12.3" style="font-kerning:none">CSF1PO</text>
<line x1="171.55" y1="1143.7" x2="171.55" y2="1148.6" stroke="#000" stroke-width="1.5"/>
<text transform="translate(175.75,1151.6) rotate(-90)" text-anchor="end" font-family='"Liberation Sans", sans-serif' font-weight="bold" font-size="12.3" style="font-kerning:none">D10S1248</text>
<line x1="186.60" y1="1143.7" x2="186.60" y2="1148.6" stroke="#000" stroke-width="1.5"/>
<text transform="translate(190.80,1151.6) rotate(-90)" text-anchor="end" font-family='"Liberation Sans", sans-serif' font-weight="bold" font-size="12.3" style="font-kerning:none">D12ATA63</text>
<line x1="201.65" y1="1143.7" x2="201.65" y2="1148.6" stroke="#000" stroke-width="1.5"/>
<text transform="translate(205.85,1151.6) rotate(-90)" text-anchor="end" font-family='"Liberation Sans", sans-serif' font-weight="bold" font-size="12.3" style="font-kerning:none">D12S391</text>
<line x1="216.70" y1="1143.7" x2="216.70" y2="1148.6" stroke="#000" stroke-width="1.5"/>
<text transform="translate(220.90,1151.6) rotate(-90)" text-anchor="end" font-family='"Liberation Sans", sans-serif' font-weight="bold" font-size="12.3" style="font-kerning:none">D13S317</text>
<line x1="231.75" y1="1143.7" x2="231.75" y2="1148.6" stroke="#000" stroke-width="1.5"/>
<text transform="translate(235.95,1151.6) rotate(-90)" text-anchor="end" font-family='"Liberation Sans", sans-serif' font-weight="bold" font-size="12.3" style="font-kerning:none">D14S1434</text>
<line x1="246.80" y1="1143.7" x2="246.80" y2="1148.6" stroke="#000" stroke-width="1.5"/>
<text transform="translate(251.00,1151.6) rotate(-90)" text-anchor="end" font-family='"Liberation Sans", sans-serif' font-weight="bold" font-size="12.3" style="font-kerning:none">D16S539</text>
<line x1="261.85" y1="1143.7" x2="261.85" y2="1148.6" stroke="#000" stroke-width="1.5"/>
<text transform="translate(266.05,1151.6) rotate(-90)" text-anchor="end" font-family='"Liberation Sans", sans-serif' font-weight="bold" font-size="12.3" style="font-kerning:none">D18S51</text>
<line x1="276.90" y1="1143.7" x2="276.90" y2="1148.6" stroke="#000" stroke-width="1.5"/>
<text transform="translate(281.10,1151.6) rotate(-90)" text-anchor="end" font-family='"Liberation Sans", sans-serif' font-weight="bold" font-size="12.3" style="font-kerning:none">D19S433</text>
<line x1="291.95" y1="1143.7" x2="291.95" y2="1148.6" stroke="#000" stroke-width="1.5"/>
<text transform="translate(296.15,1151.6) rotate(-90)" text-anchor="end" font-family='"Liberation Sans", sans-serif' font-weight="bold" font-size="12.3" style="font-kerning:none">D1S1656</text>
<line x1="307.00" y1="1143.7" x2="307.00" y2="1148.6" stroke="#000" stroke-width="1.5"/>
<text transform="translate(311.20,1151.6) rotate(-90)" text-anchor="end" font-family='"Liberation Sans", sans-serif' font-weight="bold" font-size="12.3" style="font-kerning:none">D1S1677</text>
<line x1="322.05" y1="1143.7" x2="322.05" y2="1148.6" stroke="#000" stroke-width="1.5"/>
<text transform="translate(326.25,1151.6) rotate(-90)" text-anchor="end" font-family='"Liberation Sans", sans-serif' font-weight="bold" font-size="12.3" style="font-kerning:none">D21S11</text>
<line x1="337.10" y1="1143.7" x2="337.10" y2="1148.6" stroke="#000" stroke-width="1.5"/>
<text transform="translate(341.30,1151.6) rotate(-90)" text-anchor="end" font-family='"Liberation Sans", sans-serif' font-weight="bold" font-size="12.3" style="font-kerning:none">D22S1045</text>
<line x1="352.15" y1="1143.7" x2="352.15" y2="1148.6" stroke="#000" stroke-width="1.5"/>
<text transform="translate(356.35,1151.6) rotate(-90)" text-anchor="end" font-family='"Liberation Sans", sans-serif' font-weight="bold" font-size="12.3" style="font-kerning:none">D2S1338</text>
<line x1="367.20" y1="1143.7" x2="367.20" y2="1148.6" stroke="#000" stroke-width="1.5"/>
<text transform="translate(371.40,1151.6) rotate(-90)" text-anchor="end" font-family='"Liberation Sans", sans-serif' font-weight="bold" font-size="12.3" style="font-kerning:none">D2S1776</text>
<line x1="382.25" y1="1143.7" x2="382.25" y2="1148.6" stroke="#000" stroke-width="1.5"/>
<text transform="translate(386.45,1151.6) rotate(-90)" text-anchor="end" font-family='"Liberation Sans", sans-serif' font-weight="bold" font-size="12.3" style="font-kerning:none">D2S441</text>
<line x1="397.30" y1="1143.7" x2="397.30" y2="1148.6" stroke="#000" stroke-width="1.5"/>
<text transform="translate(401.50,1151.6) rotate(-90)" text-anchor="end" font-family='"Liberation Sans", sans-serif' font-weight="bold" font-size="12.3" style="font-kerning:none">D3S1358</text>
<line x1="412.35" y1="1143.7" x2="412.35" y2="1148.6" stroke="#000" stroke-width="1.5"/>
<text transform="translate(416.55,1151.6) rotate(-90)" text-anchor="end" font-family='"Liberation Sans", sans-serif' font-weight="bold" font-size="12.3" style="font-kerning:none">D3S4529</text>
<line x1="427.40" y1="1143.7" x2="427.40" y2="1148.6" stroke="#000" stroke-width="1.5"/>
<text transform="translate(431.60,1151.6) rotate(-90)" text-anchor="end" font-family='"Liberation Sans", sans-serif' font-weight="bold" font-size="12.3" style="font-kerning:none">D4S2408</text>
<line x1="442.45" y1="1143.7" x2="442.45" y2="1148.6" stroke="#000" stroke-width="1.5"/>
<text transform="translate(446.65,1151.6) rotate(-90)" text-anchor="end" font-family='"Liberation Sans", sans-serif' font-weight="bold" font-size="12.3" style="font-kerning:none">D5S2800</text>
<line x1="457.50" y1="1143.7" x2="457.50" y2="1148.6" stroke="#000" stroke-width="1.5"/>
<text transform="translate(461.70,1151.6) rotate(-90)" text-anchor="end" font-family='"Liberation Sans", sans-serif' font-weight="bold" font-size="12.3" style="font-kerning:none">D5S818</text>
<line x1="472.55" y1="1143.7" x2="472.55" y2="1148.6" stroke="#000" stroke-width="1.5"/>
<text transform="translate(476.75,1151.6) rotate(-90)" text-anchor="end" font-family='"Liberation Sans", sans-serif' font-weight="bold" font-size="12.3" style="font-kerning:none">D6S1043</text>
<line x1="487.60" y1="1143.7" x2="487.60" y2="1148.6" stroke="#000" stroke-width="1.5"/>
<text transform="translate(491.80,1151.6) rotate(-90)" text-anchor="end" font-family='"Liberation Sans", sans-serif' font-weight="bold" font-size="12.3" style="font-kerning:none">D6S474</text>
<line x1="502.65" y1="1143.7" x2="502.65" y2="1148.6" stroke="#000" stroke-width="1.5"/>
<text transform="translate(506.85,1151.6) rotate(-90)" text-anchor="end" font-family='"Liberation Sans", sans-serif' font-weight="bold" font-size="12.3" style="font-kerning:none">D7S820</text>
<line x1="517.70" y1="1143.7" x2="517.70" y2="1148.6" stroke="#000" stroke-width="1.5"/>
<text transform="translate(521.90,1151.6) rotate(-90)" text-anchor="end" font-family='"Liberation Sans", sans-serif' font-weight="bold" font-size="12.3" style="font-kerning:none">D8S1179</text>
<line x1="532.75" y1="1143.7" x2="532.75" y2="1148.6" stroke="#000" stroke-width="1.5"/>
<text transform="translate(536.95,1151.6) rotate(-90)" text-anchor="end" font-family='"Liberation Sans", sans-serif' font-weight="bold" font-size="12.3" style="font-kerning:none">FGA</text>
<line x1="547.80" y1="1143.7" x2="547.80" y2="1148.6" stroke="#000" stroke-width="1.5"/>
<text transform="translate(552.00,1151.6) rotate(-90)" text-anchor="end" font-family='"Liberation Sans", sans-serif' font-weight="bold" font-size="12.3" style="font-kerning:none">Penta_D</text>
<line x1="562.85" y1="1143.7" x2="562.85" y2="1148.6" stroke="#000" stroke-width="1.5"/>
<text transform="translate(567.05,1151.6) rotate(-90)" text-anchor="end" font-family='"Liberation Sans", sans-serif' font-weight="bold" font-size="12.3" style="font-kerning:none">Penta_E</text>
<line x1="577.90" y1="1143.7" x2="577.90" y2="1148.6" stroke="#000" stroke-width="1.5"/>
<text transform="translate(582.10,1151.6) rotate(-90)" text-anchor="end" font-family='"Liberation Sans", sans-serif' font-weight="bold" font-size="12.3" style="font-kerning:none">TH01</text>
<line x1="592.95" y1="1143.7" x2="592.95" y2="1148.6" stroke="#000" stroke-width="1.5"/>
<text transform="translate(597.15,1151.6) rotate(-90)" text-anchor="end" font-family='"Liberation Sans", sans-serif' font-weight="bold" font-size="12.3" style="font-kerning:none">TPOX</text>
<line x1="608.00" y1="1143.7" x2="608.00" y2="1148.6" stroke="#000" stroke-width="1.5"/>
<text transform="translate(612.20,1151.6) rotate(-90)" text-anchor="end" font-family='"Liberation Sans", sans-serif' font-weight="bold" font-size="12.3" style="font-kerning:none">vWA</text>
<text x="52.3" y="847" font-family='"Liberation Serif", serif' font-weight="bold" font-size="22.3">(c)</text>
</svg></body></html>
